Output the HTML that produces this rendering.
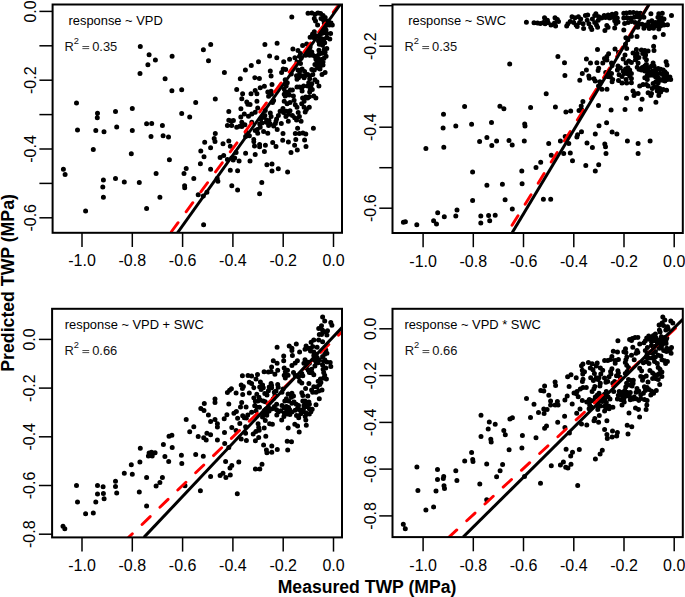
<!DOCTYPE html>
<html><head><meta charset="utf-8"><style>
html,body{margin:0;padding:0;background:#fff;}
svg{display:block;font-family:'Liberation Sans',sans-serif;}
</style></head><body>
<svg width="685" height="597" viewBox="0 0 685 597" style="font-family:'Liberation Sans',sans-serif">
<rect width="685" height="597" fill="#fff"/>
<clipPath id="c0"><rect x="52.6" y="4.5" width="289.4" height="228.3"/></clipPath>
<path d="M137.8 46.4a2.5 2.5 0 1 0 5.0 0a2.5 2.5 0 1 0 -5.0 0M146.6 54.7a2.5 2.5 0 1 0 5.0 0a2.5 2.5 0 1 0 -5.0 0M145.4 64.7a2.5 2.5 0 1 0 5.0 0a2.5 2.5 0 1 0 -5.0 0M137.5 73.4a2.5 2.5 0 1 0 5.0 0a2.5 2.5 0 1 0 -5.0 0M74.0 103.1a2.5 2.5 0 1 0 5.0 0a2.5 2.5 0 1 0 -5.0 0M95.0 113.3a2.5 2.5 0 1 0 5.0 0a2.5 2.5 0 1 0 -5.0 0M94.8 117.7a2.5 2.5 0 1 0 5.0 0a2.5 2.5 0 1 0 -5.0 0M113.0 111.5a2.5 2.5 0 1 0 5.0 0a2.5 2.5 0 1 0 -5.0 0M129.8 108.6a2.5 2.5 0 1 0 5.0 0a2.5 2.5 0 1 0 -5.0 0M144.1 123.8a2.5 2.5 0 1 0 5.0 0a2.5 2.5 0 1 0 -5.0 0M149.2 123.5a2.5 2.5 0 1 0 5.0 0a2.5 2.5 0 1 0 -5.0 0M75.0 129.9a2.5 2.5 0 1 0 5.0 0a2.5 2.5 0 1 0 -5.0 0M93.3 130.5a2.5 2.5 0 1 0 5.0 0a2.5 2.5 0 1 0 -5.0 0M101.5 131.8a2.5 2.5 0 1 0 5.0 0a2.5 2.5 0 1 0 -5.0 0M114.2 127.0a2.5 2.5 0 1 0 5.0 0a2.5 2.5 0 1 0 -5.0 0M129.8 130.5a2.5 2.5 0 1 0 5.0 0a2.5 2.5 0 1 0 -5.0 0M148.5 136.4a2.5 2.5 0 1 0 5.0 0a2.5 2.5 0 1 0 -5.0 0M90.8 149.6a2.5 2.5 0 1 0 5.0 0a2.5 2.5 0 1 0 -5.0 0M128.8 153.7a2.5 2.5 0 1 0 5.0 0a2.5 2.5 0 1 0 -5.0 0M152.9 59.9a2.5 2.5 0 1 0 5.0 0a2.5 2.5 0 1 0 -5.0 0M169.6 56.2a2.5 2.5 0 1 0 5.0 0a2.5 2.5 0 1 0 -5.0 0M200.9 49.8a2.5 2.5 0 1 0 5.0 0a2.5 2.5 0 1 0 -5.0 0M208.2 44.5a2.5 2.5 0 1 0 5.0 0a2.5 2.5 0 1 0 -5.0 0M206.0 60.7a2.5 2.5 0 1 0 5.0 0a2.5 2.5 0 1 0 -5.0 0M221.9 72.4a2.5 2.5 0 1 0 5.0 0a2.5 2.5 0 1 0 -5.0 0M242.9 70.1a2.5 2.5 0 1 0 5.0 0a2.5 2.5 0 1 0 -5.0 0M248.8 65.4a2.5 2.5 0 1 0 5.0 0a2.5 2.5 0 1 0 -5.0 0M162.6 78.8a2.5 2.5 0 1 0 5.0 0a2.5 2.5 0 1 0 -5.0 0M237.8 78.8a2.5 2.5 0 1 0 5.0 0a2.5 2.5 0 1 0 -5.0 0M289.3 17.0a2.5 2.5 0 1 0 5.0 0a2.5 2.5 0 1 0 -5.0 0M262.4 44.5a2.5 2.5 0 1 0 5.0 0a2.5 2.5 0 1 0 -5.0 0M274.6 43.2a2.5 2.5 0 1 0 5.0 0a2.5 2.5 0 1 0 -5.0 0M267.1 55.9a2.5 2.5 0 1 0 5.0 0a2.5 2.5 0 1 0 -5.0 0M274.3 57.7a2.5 2.5 0 1 0 5.0 0a2.5 2.5 0 1 0 -5.0 0M305.5 13.2a2.5 2.5 0 1 0 5.0 0a2.5 2.5 0 1 0 -5.0 0M309.3 13.0a2.5 2.5 0 1 0 5.0 0a2.5 2.5 0 1 0 -5.0 0M312.6 14.2a2.5 2.5 0 1 0 5.0 0a2.5 2.5 0 1 0 -5.0 0M315.5 13.0a2.5 2.5 0 1 0 5.0 0a2.5 2.5 0 1 0 -5.0 0M318.1 13.4a2.5 2.5 0 1 0 5.0 0a2.5 2.5 0 1 0 -5.0 0M320.6 15.5a2.5 2.5 0 1 0 5.0 0a2.5 2.5 0 1 0 -5.0 0M322.7 17.6a2.5 2.5 0 1 0 5.0 0a2.5 2.5 0 1 0 -5.0 0M311.8 18.4a2.5 2.5 0 1 0 5.0 0a2.5 2.5 0 1 0 -5.0 0M313.0 20.9a2.5 2.5 0 1 0 5.0 0a2.5 2.5 0 1 0 -5.0 0M315.1 25.1a2.5 2.5 0 1 0 5.0 0a2.5 2.5 0 1 0 -5.0 0M318.5 18.4a2.5 2.5 0 1 0 5.0 0a2.5 2.5 0 1 0 -5.0 0M321.0 20.1a2.5 2.5 0 1 0 5.0 0a2.5 2.5 0 1 0 -5.0 0M321.8 23.0a2.5 2.5 0 1 0 5.0 0a2.5 2.5 0 1 0 -5.0 0M325.6 21.3a2.5 2.5 0 1 0 5.0 0a2.5 2.5 0 1 0 -5.0 0M328.5 23.0a2.5 2.5 0 1 0 5.0 0a2.5 2.5 0 1 0 -5.0 0M329.8 25.1a2.5 2.5 0 1 0 5.0 0a2.5 2.5 0 1 0 -5.0 0M326.8 25.1a2.5 2.5 0 1 0 5.0 0a2.5 2.5 0 1 0 -5.0 0M322.7 26.8a2.5 2.5 0 1 0 5.0 0a2.5 2.5 0 1 0 -5.0 0M321.0 29.3a2.5 2.5 0 1 0 5.0 0a2.5 2.5 0 1 0 -5.0 0M323.5 30.1a2.5 2.5 0 1 0 5.0 0a2.5 2.5 0 1 0 -5.0 0M311.8 31.8a2.5 2.5 0 1 0 5.0 0a2.5 2.5 0 1 0 -5.0 0M310.1 33.9a2.5 2.5 0 1 0 5.0 0a2.5 2.5 0 1 0 -5.0 0M307.6 37.2a2.5 2.5 0 1 0 5.0 0a2.5 2.5 0 1 0 -5.0 0M310.9 37.6a2.5 2.5 0 1 0 5.0 0a2.5 2.5 0 1 0 -5.0 0M314.3 36.0a2.5 2.5 0 1 0 5.0 0a2.5 2.5 0 1 0 -5.0 0M316.8 36.8a2.5 2.5 0 1 0 5.0 0a2.5 2.5 0 1 0 -5.0 0M319.3 33.5a2.5 2.5 0 1 0 5.0 0a2.5 2.5 0 1 0 -5.0 0M321.8 32.6a2.5 2.5 0 1 0 5.0 0a2.5 2.5 0 1 0 -5.0 0M324.3 33.5a2.5 2.5 0 1 0 5.0 0a2.5 2.5 0 1 0 -5.0 0M328.1 33.5a2.5 2.5 0 1 0 5.0 0a2.5 2.5 0 1 0 -5.0 0M327.3 38.9a2.5 2.5 0 1 0 5.0 0a2.5 2.5 0 1 0 -5.0 0M324.3 37.6a2.5 2.5 0 1 0 5.0 0a2.5 2.5 0 1 0 -5.0 0M321.4 39.3a2.5 2.5 0 1 0 5.0 0a2.5 2.5 0 1 0 -5.0 0M318.5 38.5a2.5 2.5 0 1 0 5.0 0a2.5 2.5 0 1 0 -5.0 0M316.0 41.0a2.5 2.5 0 1 0 5.0 0a2.5 2.5 0 1 0 -5.0 0M319.3 41.8a2.5 2.5 0 1 0 5.0 0a2.5 2.5 0 1 0 -5.0 0M322.2 42.7a2.5 2.5 0 1 0 5.0 0a2.5 2.5 0 1 0 -5.0 0M316.8 44.3a2.5 2.5 0 1 0 5.0 0a2.5 2.5 0 1 0 -5.0 0M320.1 45.2a2.5 2.5 0 1 0 5.0 0a2.5 2.5 0 1 0 -5.0 0M324.3 48.5a2.5 2.5 0 1 0 5.0 0a2.5 2.5 0 1 0 -5.0 0M321.8 49.4a2.5 2.5 0 1 0 5.0 0a2.5 2.5 0 1 0 -5.0 0M316.4 50.2a2.5 2.5 0 1 0 5.0 0a2.5 2.5 0 1 0 -5.0 0M304.2 43.9a2.5 2.5 0 1 0 5.0 0a2.5 2.5 0 1 0 -5.0 0M300.1 45.6a2.5 2.5 0 1 0 5.0 0a2.5 2.5 0 1 0 -5.0 0M290.4 49.0a2.5 2.5 0 1 0 5.0 0a2.5 2.5 0 1 0 -5.0 0M295.5 50.6a2.5 2.5 0 1 0 5.0 0a2.5 2.5 0 1 0 -5.0 0M298.0 53.6a2.5 2.5 0 1 0 5.0 0a2.5 2.5 0 1 0 -5.0 0M307.6 46.9a2.5 2.5 0 1 0 5.0 0a2.5 2.5 0 1 0 -5.0 0M306.8 50.2a2.5 2.5 0 1 0 5.0 0a2.5 2.5 0 1 0 -5.0 0M309.3 51.9a2.5 2.5 0 1 0 5.0 0a2.5 2.5 0 1 0 -5.0 0M304.2 53.1a2.5 2.5 0 1 0 5.0 0a2.5 2.5 0 1 0 -5.0 0M281.2 61.8a2.5 2.5 0 1 0 5.0 0a2.5 2.5 0 1 0 -5.0 0M287.1 59.3a2.5 2.5 0 1 0 5.0 0a2.5 2.5 0 1 0 -5.0 0M256.0 61.8a2.5 2.5 0 1 0 5.0 0a2.5 2.5 0 1 0 -5.0 0M234.2 89.5a2.5 2.5 0 1 0 5.0 0a2.5 2.5 0 1 0 -5.0 0M252.3 77.8a2.5 2.5 0 1 0 5.0 0a2.5 2.5 0 1 0 -5.0 0M256.9 78.6a2.5 2.5 0 1 0 5.0 0a2.5 2.5 0 1 0 -5.0 0M267.8 71.1a2.5 2.5 0 1 0 5.0 0a2.5 2.5 0 1 0 -5.0 0M268.6 76.1a2.5 2.5 0 1 0 5.0 0a2.5 2.5 0 1 0 -5.0 0M257.7 87.8a2.5 2.5 0 1 0 5.0 0a2.5 2.5 0 1 0 -5.0 0M261.9 86.2a2.5 2.5 0 1 0 5.0 0a2.5 2.5 0 1 0 -5.0 0M269.5 84.5a2.5 2.5 0 1 0 5.0 0a2.5 2.5 0 1 0 -5.0 0M268.6 91.2a2.5 2.5 0 1 0 5.0 0a2.5 2.5 0 1 0 -5.0 0M265.3 92.0a2.5 2.5 0 1 0 5.0 0a2.5 2.5 0 1 0 -5.0 0M248.5 93.7a2.5 2.5 0 1 0 5.0 0a2.5 2.5 0 1 0 -5.0 0M252.7 90.4a2.5 2.5 0 1 0 5.0 0a2.5 2.5 0 1 0 -5.0 0M254.4 93.7a2.5 2.5 0 1 0 5.0 0a2.5 2.5 0 1 0 -5.0 0M240.1 93.7a2.5 2.5 0 1 0 5.0 0a2.5 2.5 0 1 0 -5.0 0M239.3 98.8a2.5 2.5 0 1 0 5.0 0a2.5 2.5 0 1 0 -5.0 0M244.3 102.1a2.5 2.5 0 1 0 5.0 0a2.5 2.5 0 1 0 -5.0 0M247.6 104.6a2.5 2.5 0 1 0 5.0 0a2.5 2.5 0 1 0 -5.0 0M254.4 101.3a2.5 2.5 0 1 0 5.0 0a2.5 2.5 0 1 0 -5.0 0M266.1 96.2a2.5 2.5 0 1 0 5.0 0a2.5 2.5 0 1 0 -5.0 0M271.1 100.4a2.5 2.5 0 1 0 5.0 0a2.5 2.5 0 1 0 -5.0 0M238.4 108.8a2.5 2.5 0 1 0 5.0 0a2.5 2.5 0 1 0 -5.0 0M241.8 113.9a2.5 2.5 0 1 0 5.0 0a2.5 2.5 0 1 0 -5.0 0M249.3 113.9a2.5 2.5 0 1 0 5.0 0a2.5 2.5 0 1 0 -5.0 0M252.7 112.2a2.5 2.5 0 1 0 5.0 0a2.5 2.5 0 1 0 -5.0 0M255.2 108.0a2.5 2.5 0 1 0 5.0 0a2.5 2.5 0 1 0 -5.0 0M262.8 110.5a2.5 2.5 0 1 0 5.0 0a2.5 2.5 0 1 0 -5.0 0M267.8 113.0a2.5 2.5 0 1 0 5.0 0a2.5 2.5 0 1 0 -5.0 0M268.6 116.4a2.5 2.5 0 1 0 5.0 0a2.5 2.5 0 1 0 -5.0 0M261.1 117.2a2.5 2.5 0 1 0 5.0 0a2.5 2.5 0 1 0 -5.0 0M239.3 122.3a2.5 2.5 0 1 0 5.0 0a2.5 2.5 0 1 0 -5.0 0M230.9 120.6a2.5 2.5 0 1 0 5.0 0a2.5 2.5 0 1 0 -5.0 0M229.2 125.6a2.5 2.5 0 1 0 5.0 0a2.5 2.5 0 1 0 -5.0 0M234.2 127.3a2.5 2.5 0 1 0 5.0 0a2.5 2.5 0 1 0 -5.0 0M239.3 126.5a2.5 2.5 0 1 0 5.0 0a2.5 2.5 0 1 0 -5.0 0M249.3 122.3a2.5 2.5 0 1 0 5.0 0a2.5 2.5 0 1 0 -5.0 0M259.4 123.1a2.5 2.5 0 1 0 5.0 0a2.5 2.5 0 1 0 -5.0 0M263.6 122.3a2.5 2.5 0 1 0 5.0 0a2.5 2.5 0 1 0 -5.0 0M266.1 125.6a2.5 2.5 0 1 0 5.0 0a2.5 2.5 0 1 0 -5.0 0M257.7 127.3a2.5 2.5 0 1 0 5.0 0a2.5 2.5 0 1 0 -5.0 0M252.7 130.6a2.5 2.5 0 1 0 5.0 0a2.5 2.5 0 1 0 -5.0 0M255.2 133.2a2.5 2.5 0 1 0 5.0 0a2.5 2.5 0 1 0 -5.0 0M261.1 131.5a2.5 2.5 0 1 0 5.0 0a2.5 2.5 0 1 0 -5.0 0M265.3 133.2a2.5 2.5 0 1 0 5.0 0a2.5 2.5 0 1 0 -5.0 0M267.8 123.9a2.5 2.5 0 1 0 5.0 0a2.5 2.5 0 1 0 -5.0 0M292.4 57.8a2.5 2.5 0 1 0 5.0 0a2.5 2.5 0 1 0 -5.0 0M297.0 56.2a2.5 2.5 0 1 0 5.0 0a2.5 2.5 0 1 0 -5.0 0M298.6 58.3a2.5 2.5 0 1 0 5.0 0a2.5 2.5 0 1 0 -5.0 0M294.5 61.9a2.5 2.5 0 1 0 5.0 0a2.5 2.5 0 1 0 -5.0 0M298.0 63.4a2.5 2.5 0 1 0 5.0 0a2.5 2.5 0 1 0 -5.0 0M303.2 55.2a2.5 2.5 0 1 0 5.0 0a2.5 2.5 0 1 0 -5.0 0M306.2 53.2a2.5 2.5 0 1 0 5.0 0a2.5 2.5 0 1 0 -5.0 0M307.2 55.2a2.5 2.5 0 1 0 5.0 0a2.5 2.5 0 1 0 -5.0 0M310.3 55.2a2.5 2.5 0 1 0 5.0 0a2.5 2.5 0 1 0 -5.0 0M312.4 56.2a2.5 2.5 0 1 0 5.0 0a2.5 2.5 0 1 0 -5.0 0M313.4 59.3a2.5 2.5 0 1 0 5.0 0a2.5 2.5 0 1 0 -5.0 0M316.4 54.2a2.5 2.5 0 1 0 5.0 0a2.5 2.5 0 1 0 -5.0 0M319.5 53.2a2.5 2.5 0 1 0 5.0 0a2.5 2.5 0 1 0 -5.0 0M322.6 52.2a2.5 2.5 0 1 0 5.0 0a2.5 2.5 0 1 0 -5.0 0M323.6 56.2a2.5 2.5 0 1 0 5.0 0a2.5 2.5 0 1 0 -5.0 0M315.4 58.3a2.5 2.5 0 1 0 5.0 0a2.5 2.5 0 1 0 -5.0 0M319.5 59.3a2.5 2.5 0 1 0 5.0 0a2.5 2.5 0 1 0 -5.0 0M321.5 58.3a2.5 2.5 0 1 0 5.0 0a2.5 2.5 0 1 0 -5.0 0M314.4 62.4a2.5 2.5 0 1 0 5.0 0a2.5 2.5 0 1 0 -5.0 0M317.5 61.9a2.5 2.5 0 1 0 5.0 0a2.5 2.5 0 1 0 -5.0 0M320.5 61.9a2.5 2.5 0 1 0 5.0 0a2.5 2.5 0 1 0 -5.0 0M312.4 64.4a2.5 2.5 0 1 0 5.0 0a2.5 2.5 0 1 0 -5.0 0M314.4 65.4a2.5 2.5 0 1 0 5.0 0a2.5 2.5 0 1 0 -5.0 0M318.5 65.4a2.5 2.5 0 1 0 5.0 0a2.5 2.5 0 1 0 -5.0 0M320.5 64.9a2.5 2.5 0 1 0 5.0 0a2.5 2.5 0 1 0 -5.0 0M315.4 68.0a2.5 2.5 0 1 0 5.0 0a2.5 2.5 0 1 0 -5.0 0M317.5 69.0a2.5 2.5 0 1 0 5.0 0a2.5 2.5 0 1 0 -5.0 0M309.3 69.5a2.5 2.5 0 1 0 5.0 0a2.5 2.5 0 1 0 -5.0 0M311.8 70.0a2.5 2.5 0 1 0 5.0 0a2.5 2.5 0 1 0 -5.0 0M319.5 74.6a2.5 2.5 0 1 0 5.0 0a2.5 2.5 0 1 0 -5.0 0M322.6 72.6a2.5 2.5 0 1 0 5.0 0a2.5 2.5 0 1 0 -5.0 0M280.7 69.0a2.5 2.5 0 1 0 5.0 0a2.5 2.5 0 1 0 -5.0 0M283.2 69.5a2.5 2.5 0 1 0 5.0 0a2.5 2.5 0 1 0 -5.0 0M279.1 72.6a2.5 2.5 0 1 0 5.0 0a2.5 2.5 0 1 0 -5.0 0M288.8 74.1a2.5 2.5 0 1 0 5.0 0a2.5 2.5 0 1 0 -5.0 0M295.5 70.0a2.5 2.5 0 1 0 5.0 0a2.5 2.5 0 1 0 -5.0 0M297.0 72.1a2.5 2.5 0 1 0 5.0 0a2.5 2.5 0 1 0 -5.0 0M299.6 69.0a2.5 2.5 0 1 0 5.0 0a2.5 2.5 0 1 0 -5.0 0M302.1 71.6a2.5 2.5 0 1 0 5.0 0a2.5 2.5 0 1 0 -5.0 0M294.0 75.7a2.5 2.5 0 1 0 5.0 0a2.5 2.5 0 1 0 -5.0 0M296.0 77.7a2.5 2.5 0 1 0 5.0 0a2.5 2.5 0 1 0 -5.0 0M294.5 79.2a2.5 2.5 0 1 0 5.0 0a2.5 2.5 0 1 0 -5.0 0M298.6 75.7a2.5 2.5 0 1 0 5.0 0a2.5 2.5 0 1 0 -5.0 0M301.6 77.7a2.5 2.5 0 1 0 5.0 0a2.5 2.5 0 1 0 -5.0 0M302.6 75.7a2.5 2.5 0 1 0 5.0 0a2.5 2.5 0 1 0 -5.0 0M305.2 74.6a2.5 2.5 0 1 0 5.0 0a2.5 2.5 0 1 0 -5.0 0M307.2 75.7a2.5 2.5 0 1 0 5.0 0a2.5 2.5 0 1 0 -5.0 0M307.2 78.7a2.5 2.5 0 1 0 5.0 0a2.5 2.5 0 1 0 -5.0 0M306.2 82.8a2.5 2.5 0 1 0 5.0 0a2.5 2.5 0 1 0 -5.0 0M310.3 74.6a2.5 2.5 0 1 0 5.0 0a2.5 2.5 0 1 0 -5.0 0M312.4 79.7a2.5 2.5 0 1 0 5.0 0a2.5 2.5 0 1 0 -5.0 0M314.4 81.8a2.5 2.5 0 1 0 5.0 0a2.5 2.5 0 1 0 -5.0 0M316.4 85.9a2.5 2.5 0 1 0 5.0 0a2.5 2.5 0 1 0 -5.0 0M309.3 83.8a2.5 2.5 0 1 0 5.0 0a2.5 2.5 0 1 0 -5.0 0M308.3 85.9a2.5 2.5 0 1 0 5.0 0a2.5 2.5 0 1 0 -5.0 0M282.7 79.7a2.5 2.5 0 1 0 5.0 0a2.5 2.5 0 1 0 -5.0 0M284.8 82.8a2.5 2.5 0 1 0 5.0 0a2.5 2.5 0 1 0 -5.0 0M283.7 85.9a2.5 2.5 0 1 0 5.0 0a2.5 2.5 0 1 0 -5.0 0M281.7 88.9a2.5 2.5 0 1 0 5.0 0a2.5 2.5 0 1 0 -5.0 0M282.7 92.0a2.5 2.5 0 1 0 5.0 0a2.5 2.5 0 1 0 -5.0 0M282.7 96.1a2.5 2.5 0 1 0 5.0 0a2.5 2.5 0 1 0 -5.0 0M287.8 90.0a2.5 2.5 0 1 0 5.0 0a2.5 2.5 0 1 0 -5.0 0M289.9 90.0a2.5 2.5 0 1 0 5.0 0a2.5 2.5 0 1 0 -5.0 0M285.8 92.0a2.5 2.5 0 1 0 5.0 0a2.5 2.5 0 1 0 -5.0 0M286.8 95.1a2.5 2.5 0 1 0 5.0 0a2.5 2.5 0 1 0 -5.0 0M290.9 96.1a2.5 2.5 0 1 0 5.0 0a2.5 2.5 0 1 0 -5.0 0M294.5 86.9a2.5 2.5 0 1 0 5.0 0a2.5 2.5 0 1 0 -5.0 0M297.0 86.9a2.5 2.5 0 1 0 5.0 0a2.5 2.5 0 1 0 -5.0 0M299.1 87.9a2.5 2.5 0 1 0 5.0 0a2.5 2.5 0 1 0 -5.0 0M301.1 85.9a2.5 2.5 0 1 0 5.0 0a2.5 2.5 0 1 0 -5.0 0M299.6 91.0a2.5 2.5 0 1 0 5.0 0a2.5 2.5 0 1 0 -5.0 0M305.2 85.9a2.5 2.5 0 1 0 5.0 0a2.5 2.5 0 1 0 -5.0 0M307.8 90.0a2.5 2.5 0 1 0 5.0 0a2.5 2.5 0 1 0 -5.0 0M307.2 92.0a2.5 2.5 0 1 0 5.0 0a2.5 2.5 0 1 0 -5.0 0M309.8 89.5a2.5 2.5 0 1 0 5.0 0a2.5 2.5 0 1 0 -5.0 0M311.3 96.1a2.5 2.5 0 1 0 5.0 0a2.5 2.5 0 1 0 -5.0 0M313.4 98.1a2.5 2.5 0 1 0 5.0 0a2.5 2.5 0 1 0 -5.0 0M303.2 97.1a2.5 2.5 0 1 0 5.0 0a2.5 2.5 0 1 0 -5.0 0M305.2 98.1a2.5 2.5 0 1 0 5.0 0a2.5 2.5 0 1 0 -5.0 0M300.1 98.1a2.5 2.5 0 1 0 5.0 0a2.5 2.5 0 1 0 -5.0 0M268.9 94.3a2.5 2.5 0 1 0 5.0 0a2.5 2.5 0 1 0 -5.0 0M270.0 102.5a2.5 2.5 0 1 0 5.0 0a2.5 2.5 0 1 0 -5.0 0M262.4 115.4a2.5 2.5 0 1 0 5.0 0a2.5 2.5 0 1 0 -5.0 0M258.3 118.9a2.5 2.5 0 1 0 5.0 0a2.5 2.5 0 1 0 -5.0 0M257.2 124.1a2.5 2.5 0 1 0 5.0 0a2.5 2.5 0 1 0 -5.0 0M264.2 120.0a2.5 2.5 0 1 0 5.0 0a2.5 2.5 0 1 0 -5.0 0M266.5 120.6a2.5 2.5 0 1 0 5.0 0a2.5 2.5 0 1 0 -5.0 0M254.8 129.4a2.5 2.5 0 1 0 5.0 0a2.5 2.5 0 1 0 -5.0 0M271.2 125.9a2.5 2.5 0 1 0 5.0 0a2.5 2.5 0 1 0 -5.0 0M272.9 123.5a2.5 2.5 0 1 0 5.0 0a2.5 2.5 0 1 0 -5.0 0M274.7 129.4a2.5 2.5 0 1 0 5.0 0a2.5 2.5 0 1 0 -5.0 0M274.1 118.9a2.5 2.5 0 1 0 5.0 0a2.5 2.5 0 1 0 -5.0 0M273.5 121.2a2.5 2.5 0 1 0 5.0 0a2.5 2.5 0 1 0 -5.0 0M275.9 115.4a2.5 2.5 0 1 0 5.0 0a2.5 2.5 0 1 0 -5.0 0M277.6 111.3a2.5 2.5 0 1 0 5.0 0a2.5 2.5 0 1 0 -5.0 0M280.5 108.4a2.5 2.5 0 1 0 5.0 0a2.5 2.5 0 1 0 -5.0 0M281.1 112.4a2.5 2.5 0 1 0 5.0 0a2.5 2.5 0 1 0 -5.0 0M278.8 123.5a2.5 2.5 0 1 0 5.0 0a2.5 2.5 0 1 0 -5.0 0M280.5 133.5a2.5 2.5 0 1 0 5.0 0a2.5 2.5 0 1 0 -5.0 0M281.7 94.3a2.5 2.5 0 1 0 5.0 0a2.5 2.5 0 1 0 -5.0 0M281.7 101.3a2.5 2.5 0 1 0 5.0 0a2.5 2.5 0 1 0 -5.0 0M284.6 103.7a2.5 2.5 0 1 0 5.0 0a2.5 2.5 0 1 0 -5.0 0M287.5 102.5a2.5 2.5 0 1 0 5.0 0a2.5 2.5 0 1 0 -5.0 0M291.6 100.2a2.5 2.5 0 1 0 5.0 0a2.5 2.5 0 1 0 -5.0 0M292.8 104.8a2.5 2.5 0 1 0 5.0 0a2.5 2.5 0 1 0 -5.0 0M294.5 107.2a2.5 2.5 0 1 0 5.0 0a2.5 2.5 0 1 0 -5.0 0M284.0 111.3a2.5 2.5 0 1 0 5.0 0a2.5 2.5 0 1 0 -5.0 0M286.4 114.2a2.5 2.5 0 1 0 5.0 0a2.5 2.5 0 1 0 -5.0 0M283.4 116.5a2.5 2.5 0 1 0 5.0 0a2.5 2.5 0 1 0 -5.0 0M287.5 110.7a2.5 2.5 0 1 0 5.0 0a2.5 2.5 0 1 0 -5.0 0M289.9 115.4a2.5 2.5 0 1 0 5.0 0a2.5 2.5 0 1 0 -5.0 0M292.2 117.7a2.5 2.5 0 1 0 5.0 0a2.5 2.5 0 1 0 -5.0 0M294.0 120.0a2.5 2.5 0 1 0 5.0 0a2.5 2.5 0 1 0 -5.0 0M285.8 121.2a2.5 2.5 0 1 0 5.0 0a2.5 2.5 0 1 0 -5.0 0M295.7 112.4a2.5 2.5 0 1 0 5.0 0a2.5 2.5 0 1 0 -5.0 0M296.9 116.5a2.5 2.5 0 1 0 5.0 0a2.5 2.5 0 1 0 -5.0 0M298.6 121.2a2.5 2.5 0 1 0 5.0 0a2.5 2.5 0 1 0 -5.0 0M299.2 103.7a2.5 2.5 0 1 0 5.0 0a2.5 2.5 0 1 0 -5.0 0M301.6 101.3a2.5 2.5 0 1 0 5.0 0a2.5 2.5 0 1 0 -5.0 0M306.8 96.7a2.5 2.5 0 1 0 5.0 0a2.5 2.5 0 1 0 -5.0 0M301.6 107.2a2.5 2.5 0 1 0 5.0 0a2.5 2.5 0 1 0 -5.0 0M303.9 109.5a2.5 2.5 0 1 0 5.0 0a2.5 2.5 0 1 0 -5.0 0M306.8 107.2a2.5 2.5 0 1 0 5.0 0a2.5 2.5 0 1 0 -5.0 0M302.7 111.9a2.5 2.5 0 1 0 5.0 0a2.5 2.5 0 1 0 -5.0 0M295.1 128.2a2.5 2.5 0 1 0 5.0 0a2.5 2.5 0 1 0 -5.0 0M292.8 133.5a2.5 2.5 0 1 0 5.0 0a2.5 2.5 0 1 0 -5.0 0M296.9 133.5a2.5 2.5 0 1 0 5.0 0a2.5 2.5 0 1 0 -5.0 0M300.4 132.9a2.5 2.5 0 1 0 5.0 0a2.5 2.5 0 1 0 -5.0 0M303.3 134.0a2.5 2.5 0 1 0 5.0 0a2.5 2.5 0 1 0 -5.0 0M310.9 128.2a2.5 2.5 0 1 0 5.0 0a2.5 2.5 0 1 0 -5.0 0M60.9 169.3a2.5 2.5 0 1 0 5.0 0a2.5 2.5 0 1 0 -5.0 0M62.6 174.4a2.5 2.5 0 1 0 5.0 0a2.5 2.5 0 1 0 -5.0 0M100.9 180.1a2.5 2.5 0 1 0 5.0 0a2.5 2.5 0 1 0 -5.0 0M100.3 187.1a2.5 2.5 0 1 0 5.0 0a2.5 2.5 0 1 0 -5.0 0M100.9 197.3a2.5 2.5 0 1 0 5.0 0a2.5 2.5 0 1 0 -5.0 0M113.0 178.4a2.5 2.5 0 1 0 5.0 0a2.5 2.5 0 1 0 -5.0 0M121.8 182.0a2.5 2.5 0 1 0 5.0 0a2.5 2.5 0 1 0 -5.0 0M136.8 182.4a2.5 2.5 0 1 0 5.0 0a2.5 2.5 0 1 0 -5.0 0M83.1 210.9a2.5 2.5 0 1 0 5.0 0a2.5 2.5 0 1 0 -5.0 0M144.1 208.6a2.5 2.5 0 1 0 5.0 0a2.5 2.5 0 1 0 -5.0 0M169.4 90.8a2.5 2.5 0 1 0 5.0 0a2.5 2.5 0 1 0 -5.0 0M179.2 89.7a2.5 2.5 0 1 0 5.0 0a2.5 2.5 0 1 0 -5.0 0M193.2 102.5a2.5 2.5 0 1 0 5.0 0a2.5 2.5 0 1 0 -5.0 0M212.8 99.0a2.5 2.5 0 1 0 5.0 0a2.5 2.5 0 1 0 -5.0 0M245.3 104.3a2.5 2.5 0 1 0 5.0 0a2.5 2.5 0 1 0 -5.0 0M179.2 113.5a2.5 2.5 0 1 0 5.0 0a2.5 2.5 0 1 0 -5.0 0M187.2 117.1a2.5 2.5 0 1 0 5.0 0a2.5 2.5 0 1 0 -5.0 0M159.9 125.4a2.5 2.5 0 1 0 5.0 0a2.5 2.5 0 1 0 -5.0 0M160.6 135.7a2.5 2.5 0 1 0 5.0 0a2.5 2.5 0 1 0 -5.0 0M166.0 137.1a2.5 2.5 0 1 0 5.0 0a2.5 2.5 0 1 0 -5.0 0M226.3 111.6a2.5 2.5 0 1 0 5.0 0a2.5 2.5 0 1 0 -5.0 0M238.3 117.1a2.5 2.5 0 1 0 5.0 0a2.5 2.5 0 1 0 -5.0 0M246.0 116.2a2.5 2.5 0 1 0 5.0 0a2.5 2.5 0 1 0 -5.0 0M226.3 120.3a2.5 2.5 0 1 0 5.0 0a2.5 2.5 0 1 0 -5.0 0M228.5 121.1a2.5 2.5 0 1 0 5.0 0a2.5 2.5 0 1 0 -5.0 0M224.9 125.4a2.5 2.5 0 1 0 5.0 0a2.5 2.5 0 1 0 -5.0 0M237.3 126.2a2.5 2.5 0 1 0 5.0 0a2.5 2.5 0 1 0 -5.0 0M242.4 124.7a2.5 2.5 0 1 0 5.0 0a2.5 2.5 0 1 0 -5.0 0M212.8 133.5a2.5 2.5 0 1 0 5.0 0a2.5 2.5 0 1 0 -5.0 0M202.2 142.2a2.5 2.5 0 1 0 5.0 0a2.5 2.5 0 1 0 -5.0 0M211.7 138.6a2.5 2.5 0 1 0 5.0 0a2.5 2.5 0 1 0 -5.0 0M212.5 141.5a2.5 2.5 0 1 0 5.0 0a2.5 2.5 0 1 0 -5.0 0M208.1 147.8a2.5 2.5 0 1 0 5.0 0a2.5 2.5 0 1 0 -5.0 0M220.5 143.7a2.5 2.5 0 1 0 5.0 0a2.5 2.5 0 1 0 -5.0 0M226.3 141.1a2.5 2.5 0 1 0 5.0 0a2.5 2.5 0 1 0 -5.0 0M227.8 146.3a2.5 2.5 0 1 0 5.0 0a2.5 2.5 0 1 0 -5.0 0M198.3 151.0a2.5 2.5 0 1 0 5.0 0a2.5 2.5 0 1 0 -5.0 0M201.5 156.8a2.5 2.5 0 1 0 5.0 0a2.5 2.5 0 1 0 -5.0 0M221.2 155.4a2.5 2.5 0 1 0 5.0 0a2.5 2.5 0 1 0 -5.0 0M217.6 157.6a2.5 2.5 0 1 0 5.0 0a2.5 2.5 0 1 0 -5.0 0M233.6 152.5a2.5 2.5 0 1 0 5.0 0a2.5 2.5 0 1 0 -5.0 0M243.1 153.2a2.5 2.5 0 1 0 5.0 0a2.5 2.5 0 1 0 -5.0 0M243.1 136.4a2.5 2.5 0 1 0 5.0 0a2.5 2.5 0 1 0 -5.0 0M166.9 159.7a2.5 2.5 0 1 0 5.0 0a2.5 2.5 0 1 0 -5.0 0M197.9 163.8a2.5 2.5 0 1 0 5.0 0a2.5 2.5 0 1 0 -5.0 0M183.7 168.4a2.5 2.5 0 1 0 5.0 0a2.5 2.5 0 1 0 -5.0 0M181.5 173.5a2.5 2.5 0 1 0 5.0 0a2.5 2.5 0 1 0 -5.0 0M153.6 173.4a2.5 2.5 0 1 0 5.0 0a2.5 2.5 0 1 0 -5.0 0M191.3 178.4a2.5 2.5 0 1 0 5.0 0a2.5 2.5 0 1 0 -5.0 0M208.1 169.3a2.5 2.5 0 1 0 5.0 0a2.5 2.5 0 1 0 -5.0 0M182.1 185.7a2.5 2.5 0 1 0 5.0 0a2.5 2.5 0 1 0 -5.0 0M182.2 187.8a2.5 2.5 0 1 0 5.0 0a2.5 2.5 0 1 0 -5.0 0M157.4 197.3a2.5 2.5 0 1 0 5.0 0a2.5 2.5 0 1 0 -5.0 0M195.7 194.7a2.5 2.5 0 1 0 5.0 0a2.5 2.5 0 1 0 -5.0 0M200.8 195.9a2.5 2.5 0 1 0 5.0 0a2.5 2.5 0 1 0 -5.0 0M204.4 192.2a2.5 2.5 0 1 0 5.0 0a2.5 2.5 0 1 0 -5.0 0M214.7 178.4a2.5 2.5 0 1 0 5.0 0a2.5 2.5 0 1 0 -5.0 0M215.4 181.3a2.5 2.5 0 1 0 5.0 0a2.5 2.5 0 1 0 -5.0 0M224.9 159.4a2.5 2.5 0 1 0 5.0 0a2.5 2.5 0 1 0 -5.0 0M229.3 157.9a2.5 2.5 0 1 0 5.0 0a2.5 2.5 0 1 0 -5.0 0M232.2 157.9a2.5 2.5 0 1 0 5.0 0a2.5 2.5 0 1 0 -5.0 0M230.7 160.1a2.5 2.5 0 1 0 5.0 0a2.5 2.5 0 1 0 -5.0 0M236.6 161.1a2.5 2.5 0 1 0 5.0 0a2.5 2.5 0 1 0 -5.0 0M227.8 170.3a2.5 2.5 0 1 0 5.0 0a2.5 2.5 0 1 0 -5.0 0M235.1 170.8a2.5 2.5 0 1 0 5.0 0a2.5 2.5 0 1 0 -5.0 0M229.3 185.7a2.5 2.5 0 1 0 5.0 0a2.5 2.5 0 1 0 -5.0 0M235.1 190.0a2.5 2.5 0 1 0 5.0 0a2.5 2.5 0 1 0 -5.0 0M201.1 224.8a2.5 2.5 0 1 0 5.0 0a2.5 2.5 0 1 0 -5.0 0M247.5 161.1a2.5 2.5 0 1 0 5.0 0a2.5 2.5 0 1 0 -5.0 0M244.0 132.2a2.5 2.5 0 1 0 5.0 0a2.5 2.5 0 1 0 -5.0 0M246.9 135.8a2.5 2.5 0 1 0 5.0 0a2.5 2.5 0 1 0 -5.0 0M251.3 139.5a2.5 2.5 0 1 0 5.0 0a2.5 2.5 0 1 0 -5.0 0M251.3 141.7a2.5 2.5 0 1 0 5.0 0a2.5 2.5 0 1 0 -5.0 0M252.0 146.1a2.5 2.5 0 1 0 5.0 0a2.5 2.5 0 1 0 -5.0 0M257.1 144.6a2.5 2.5 0 1 0 5.0 0a2.5 2.5 0 1 0 -5.0 0M257.1 146.8a2.5 2.5 0 1 0 5.0 0a2.5 2.5 0 1 0 -5.0 0M262.9 145.3a2.5 2.5 0 1 0 5.0 0a2.5 2.5 0 1 0 -5.0 0M270.2 142.4a2.5 2.5 0 1 0 5.0 0a2.5 2.5 0 1 0 -5.0 0M273.5 146.4a2.5 2.5 0 1 0 5.0 0a2.5 2.5 0 1 0 -5.0 0M280.2 140.2a2.5 2.5 0 1 0 5.0 0a2.5 2.5 0 1 0 -5.0 0M285.9 142.0a2.5 2.5 0 1 0 5.0 0a2.5 2.5 0 1 0 -5.0 0M293.3 139.5a2.5 2.5 0 1 0 5.0 0a2.5 2.5 0 1 0 -5.0 0M302.1 139.9a2.5 2.5 0 1 0 5.0 0a2.5 2.5 0 1 0 -5.0 0M292.1 145.3a2.5 2.5 0 1 0 5.0 0a2.5 2.5 0 1 0 -5.0 0M294.8 150.1a2.5 2.5 0 1 0 5.0 0a2.5 2.5 0 1 0 -5.0 0M303.5 146.4a2.5 2.5 0 1 0 5.0 0a2.5 2.5 0 1 0 -5.0 0M288.5 152.6a2.5 2.5 0 1 0 5.0 0a2.5 2.5 0 1 0 -5.0 0M252.7 154.5a2.5 2.5 0 1 0 5.0 0a2.5 2.5 0 1 0 -5.0 0M261.9 151.6a2.5 2.5 0 1 0 5.0 0a2.5 2.5 0 1 0 -5.0 0M264.4 164.7a2.5 2.5 0 1 0 5.0 0a2.5 2.5 0 1 0 -5.0 0M269.5 163.9a2.5 2.5 0 1 0 5.0 0a2.5 2.5 0 1 0 -5.0 0M269.5 170.9a2.5 2.5 0 1 0 5.0 0a2.5 2.5 0 1 0 -5.0 0M275.8 168.7a2.5 2.5 0 1 0 5.0 0a2.5 2.5 0 1 0 -5.0 0M285.1 172.0a2.5 2.5 0 1 0 5.0 0a2.5 2.5 0 1 0 -5.0 0M259.3 182.6a2.5 2.5 0 1 0 5.0 0a2.5 2.5 0 1 0 -5.0 0M257.1 193.8a2.5 2.5 0 1 0 5.0 0a2.5 2.5 0 1 0 -5.0 0" fill="#000"/>
<g clip-path="url(#c0)"><line x1="170.6" y1="232.8" x2="339.0" y2="4.5" stroke="#ff0000" stroke-width="2.9" stroke-dasharray="11.3 13.5" stroke-dashoffset="23.5" stroke-linecap="round"/>
<line x1="177.5" y1="232.8" x2="340.3" y2="4.5" stroke="#000" stroke-width="3.0"/></g>
<rect x="52.6" y="4.5" width="289.4" height="228.3" fill="none" stroke="#000" stroke-width="2.0"/>
<line x1="82.0" y1="232.8" x2="82.0" y2="247.0" stroke="#000" stroke-width="1.5"/>
<text x="82.0" y="266.3" text-anchor="middle" font-size="16">-1.0</text>
<line x1="132.3" y1="232.8" x2="132.3" y2="247.0" stroke="#000" stroke-width="1.5"/>
<text x="132.3" y="266.3" text-anchor="middle" font-size="16">-0.8</text>
<line x1="182.6" y1="232.8" x2="182.6" y2="247.0" stroke="#000" stroke-width="1.5"/>
<text x="182.6" y="266.3" text-anchor="middle" font-size="16">-0.6</text>
<line x1="232.9" y1="232.8" x2="232.9" y2="247.0" stroke="#000" stroke-width="1.5"/>
<text x="232.9" y="266.3" text-anchor="middle" font-size="16">-0.4</text>
<line x1="283.2" y1="232.8" x2="283.2" y2="247.0" stroke="#000" stroke-width="1.5"/>
<text x="283.2" y="266.3" text-anchor="middle" font-size="16">-0.2</text>
<line x1="333.5" y1="232.8" x2="333.5" y2="247.0" stroke="#000" stroke-width="1.5"/>
<text x="333.5" y="266.3" text-anchor="middle" font-size="16">0.0</text>
<line x1="39.400000000000006" y1="11.4" x2="52.6" y2="11.4" stroke="#000" stroke-width="1.5"/>
<line x1="39.400000000000006" y1="45.8" x2="52.6" y2="45.8" stroke="#000" stroke-width="1.5"/>
<line x1="39.400000000000006" y1="80.2" x2="52.6" y2="80.2" stroke="#000" stroke-width="1.5"/>
<line x1="39.400000000000006" y1="114.6" x2="52.6" y2="114.6" stroke="#000" stroke-width="1.5"/>
<line x1="39.400000000000006" y1="149.0" x2="52.6" y2="149.0" stroke="#000" stroke-width="1.5"/>
<line x1="39.400000000000006" y1="183.4" x2="52.6" y2="183.4" stroke="#000" stroke-width="1.5"/>
<line x1="39.400000000000006" y1="217.8" x2="52.6" y2="217.8" stroke="#000" stroke-width="1.5"/>
<text transform="translate(35.7,11.4) rotate(-90)" x="0" y="0" text-anchor="middle" font-size="16">0.0</text>
<text transform="translate(35.7,80.2) rotate(-90)" x="0" y="0" text-anchor="middle" font-size="16">-0.2</text>
<text transform="translate(35.7,149.0) rotate(-90)" x="0" y="0" text-anchor="middle" font-size="16">-0.4</text>
<text transform="translate(35.7,217.8) rotate(-90)" x="0" y="0" text-anchor="middle" font-size="16">-0.6</text>
<text x="68.5" y="25.2" font-size="12.9">response ~ VPD</text>
<text x="64.6" y="50.6" font-size="12.9" fill="#111">R</text>
<text x="73.8" y="44.2" font-size="9.3" fill="#111">2</text>
<path d="M82.4 46.5H89.2M82.4 48.6H89.2" stroke="#444" stroke-width="0.95" fill="none"/>
<text x="92.2" y="50.6" font-size="12.9" fill="#111">0.35</text>
<clipPath id="c1"><rect x="392.5" y="4.5" width="290.29999999999995" height="228.5"/></clipPath>
<path d="M523.9 22.3a2.5 2.5 0 1 0 5.0 0a2.5 2.5 0 1 0 -5.0 0M531.5 22.8a2.5 2.5 0 1 0 5.0 0a2.5 2.5 0 1 0 -5.0 0M535.0 23.1a2.5 2.5 0 1 0 5.0 0a2.5 2.5 0 1 0 -5.0 0M537.9 23.5a2.5 2.5 0 1 0 5.0 0a2.5 2.5 0 1 0 -5.0 0M540.9 22.5a2.5 2.5 0 1 0 5.0 0a2.5 2.5 0 1 0 -5.0 0M542.0 17.8a2.5 2.5 0 1 0 5.0 0a2.5 2.5 0 1 0 -5.0 0M542.6 23.7a2.5 2.5 0 1 0 5.0 0a2.5 2.5 0 1 0 -5.0 0M544.9 20.2a2.5 2.5 0 1 0 5.0 0a2.5 2.5 0 1 0 -5.0 0M545.5 22.5a2.5 2.5 0 1 0 5.0 0a2.5 2.5 0 1 0 -5.0 0M548.5 24.9a2.5 2.5 0 1 0 5.0 0a2.5 2.5 0 1 0 -5.0 0M552.5 17.8a2.5 2.5 0 1 0 5.0 0a2.5 2.5 0 1 0 -5.0 0M554.9 19.6a2.5 2.5 0 1 0 5.0 0a2.5 2.5 0 1 0 -5.0 0M556.0 21.4a2.5 2.5 0 1 0 5.0 0a2.5 2.5 0 1 0 -5.0 0M552.0 23.1a2.5 2.5 0 1 0 5.0 0a2.5 2.5 0 1 0 -5.0 0M553.1 26.0a2.5 2.5 0 1 0 5.0 0a2.5 2.5 0 1 0 -5.0 0M565.4 23.7a2.5 2.5 0 1 0 5.0 0a2.5 2.5 0 1 0 -5.0 0M564.2 26.0a2.5 2.5 0 1 0 5.0 0a2.5 2.5 0 1 0 -5.0 0M567.7 21.4a2.5 2.5 0 1 0 5.0 0a2.5 2.5 0 1 0 -5.0 0M569.5 16.7a2.5 2.5 0 1 0 5.0 0a2.5 2.5 0 1 0 -5.0 0M572.4 17.8a2.5 2.5 0 1 0 5.0 0a2.5 2.5 0 1 0 -5.0 0M571.2 22.5a2.5 2.5 0 1 0 5.0 0a2.5 2.5 0 1 0 -5.0 0M573.6 24.9a2.5 2.5 0 1 0 5.0 0a2.5 2.5 0 1 0 -5.0 0M574.7 26.6a2.5 2.5 0 1 0 5.0 0a2.5 2.5 0 1 0 -5.0 0M575.9 16.7a2.5 2.5 0 1 0 5.0 0a2.5 2.5 0 1 0 -5.0 0M578.2 19.0a2.5 2.5 0 1 0 5.0 0a2.5 2.5 0 1 0 -5.0 0M577.1 22.5a2.5 2.5 0 1 0 5.0 0a2.5 2.5 0 1 0 -5.0 0M580.6 23.7a2.5 2.5 0 1 0 5.0 0a2.5 2.5 0 1 0 -5.0 0M581.1 28.4a2.5 2.5 0 1 0 5.0 0a2.5 2.5 0 1 0 -5.0 0M582.9 15.5a2.5 2.5 0 1 0 5.0 0a2.5 2.5 0 1 0 -5.0 0M585.2 14.9a2.5 2.5 0 1 0 5.0 0a2.5 2.5 0 1 0 -5.0 0M584.7 20.2a2.5 2.5 0 1 0 5.0 0a2.5 2.5 0 1 0 -5.0 0M586.4 23.7a2.5 2.5 0 1 0 5.0 0a2.5 2.5 0 1 0 -5.0 0M588.2 27.2a2.5 2.5 0 1 0 5.0 0a2.5 2.5 0 1 0 -5.0 0M589.3 29.5a2.5 2.5 0 1 0 5.0 0a2.5 2.5 0 1 0 -5.0 0M589.9 19.0a2.5 2.5 0 1 0 5.0 0a2.5 2.5 0 1 0 -5.0 0M592.2 15.5a2.5 2.5 0 1 0 5.0 0a2.5 2.5 0 1 0 -5.0 0M593.4 13.8a2.5 2.5 0 1 0 5.0 0a2.5 2.5 0 1 0 -5.0 0M592.2 22.5a2.5 2.5 0 1 0 5.0 0a2.5 2.5 0 1 0 -5.0 0M594.0 24.9a2.5 2.5 0 1 0 5.0 0a2.5 2.5 0 1 0 -5.0 0M595.7 20.2a2.5 2.5 0 1 0 5.0 0a2.5 2.5 0 1 0 -5.0 0M596.3 16.7a2.5 2.5 0 1 0 5.0 0a2.5 2.5 0 1 0 -5.0 0M601.7 15.5a2.5 2.5 0 1 0 5.0 0a2.5 2.5 0 1 0 -5.0 0M605.6 14.9a2.5 2.5 0 1 0 5.0 0a2.5 2.5 0 1 0 -5.0 0M609.6 14.2a2.5 2.5 0 1 0 5.0 0a2.5 2.5 0 1 0 -5.0 0M613.5 13.5a2.5 2.5 0 1 0 5.0 0a2.5 2.5 0 1 0 -5.0 0M599.1 18.1a2.5 2.5 0 1 0 5.0 0a2.5 2.5 0 1 0 -5.0 0M603.0 17.5a2.5 2.5 0 1 0 5.0 0a2.5 2.5 0 1 0 -5.0 0M607.0 18.1a2.5 2.5 0 1 0 5.0 0a2.5 2.5 0 1 0 -5.0 0M610.9 17.5a2.5 2.5 0 1 0 5.0 0a2.5 2.5 0 1 0 -5.0 0M614.8 18.1a2.5 2.5 0 1 0 5.0 0a2.5 2.5 0 1 0 -5.0 0M612.2 20.8a2.5 2.5 0 1 0 5.0 0a2.5 2.5 0 1 0 -5.0 0M615.5 22.1a2.5 2.5 0 1 0 5.0 0a2.5 2.5 0 1 0 -5.0 0M613.5 23.4a2.5 2.5 0 1 0 5.0 0a2.5 2.5 0 1 0 -5.0 0M595.1 27.3a2.5 2.5 0 1 0 5.0 0a2.5 2.5 0 1 0 -5.0 0M604.3 25.4a2.5 2.5 0 1 0 5.0 0a2.5 2.5 0 1 0 -5.0 0M605.6 27.3a2.5 2.5 0 1 0 5.0 0a2.5 2.5 0 1 0 -5.0 0M612.2 28.0a2.5 2.5 0 1 0 5.0 0a2.5 2.5 0 1 0 -5.0 0M602.4 30.6a2.5 2.5 0 1 0 5.0 0a2.5 2.5 0 1 0 -5.0 0M634.5 36.5a2.5 2.5 0 1 0 5.0 0a2.5 2.5 0 1 0 -5.0 0M623.4 37.8a2.5 2.5 0 1 0 5.0 0a2.5 2.5 0 1 0 -5.0 0M652.3 37.2a2.5 2.5 0 1 0 5.0 0a2.5 2.5 0 1 0 -5.0 0M660.8 34.6a2.5 2.5 0 1 0 5.0 0a2.5 2.5 0 1 0 -5.0 0M621.3 13.3a2.5 2.5 0 1 0 5.0 0a2.5 2.5 0 1 0 -5.0 0M623.9 12.9a2.5 2.5 0 1 0 5.0 0a2.5 2.5 0 1 0 -5.0 0M627.4 12.4a2.5 2.5 0 1 0 5.0 0a2.5 2.5 0 1 0 -5.0 0M630.9 12.4a2.5 2.5 0 1 0 5.0 0a2.5 2.5 0 1 0 -5.0 0M634.4 12.9a2.5 2.5 0 1 0 5.0 0a2.5 2.5 0 1 0 -5.0 0M637.9 13.3a2.5 2.5 0 1 0 5.0 0a2.5 2.5 0 1 0 -5.0 0M648.4 13.8a2.5 2.5 0 1 0 5.0 0a2.5 2.5 0 1 0 -5.0 0M656.3 13.8a2.5 2.5 0 1 0 5.0 0a2.5 2.5 0 1 0 -5.0 0M659.8 13.3a2.5 2.5 0 1 0 5.0 0a2.5 2.5 0 1 0 -5.0 0M669.0 15.5a2.5 2.5 0 1 0 5.0 0a2.5 2.5 0 1 0 -5.0 0M621.3 18.1a2.5 2.5 0 1 0 5.0 0a2.5 2.5 0 1 0 -5.0 0M624.8 17.7a2.5 2.5 0 1 0 5.0 0a2.5 2.5 0 1 0 -5.0 0M628.3 18.1a2.5 2.5 0 1 0 5.0 0a2.5 2.5 0 1 0 -5.0 0M631.8 17.3a2.5 2.5 0 1 0 5.0 0a2.5 2.5 0 1 0 -5.0 0M635.3 16.8a2.5 2.5 0 1 0 5.0 0a2.5 2.5 0 1 0 -5.0 0M638.8 16.4a2.5 2.5 0 1 0 5.0 0a2.5 2.5 0 1 0 -5.0 0M641.4 17.3a2.5 2.5 0 1 0 5.0 0a2.5 2.5 0 1 0 -5.0 0M655.4 17.3a2.5 2.5 0 1 0 5.0 0a2.5 2.5 0 1 0 -5.0 0M658.9 18.1a2.5 2.5 0 1 0 5.0 0a2.5 2.5 0 1 0 -5.0 0M661.5 19.0a2.5 2.5 0 1 0 5.0 0a2.5 2.5 0 1 0 -5.0 0M622.1 23.4a2.5 2.5 0 1 0 5.0 0a2.5 2.5 0 1 0 -5.0 0M625.6 22.5a2.5 2.5 0 1 0 5.0 0a2.5 2.5 0 1 0 -5.0 0M629.1 21.6a2.5 2.5 0 1 0 5.0 0a2.5 2.5 0 1 0 -5.0 0M632.6 22.5a2.5 2.5 0 1 0 5.0 0a2.5 2.5 0 1 0 -5.0 0M636.1 23.8a2.5 2.5 0 1 0 5.0 0a2.5 2.5 0 1 0 -5.0 0M639.6 24.3a2.5 2.5 0 1 0 5.0 0a2.5 2.5 0 1 0 -5.0 0M643.1 25.1a2.5 2.5 0 1 0 5.0 0a2.5 2.5 0 1 0 -5.0 0M645.8 26.0a2.5 2.5 0 1 0 5.0 0a2.5 2.5 0 1 0 -5.0 0M648.4 26.5a2.5 2.5 0 1 0 5.0 0a2.5 2.5 0 1 0 -5.0 0M651.0 26.0a2.5 2.5 0 1 0 5.0 0a2.5 2.5 0 1 0 -5.0 0M654.5 25.6a2.5 2.5 0 1 0 5.0 0a2.5 2.5 0 1 0 -5.0 0M658.0 26.0a2.5 2.5 0 1 0 5.0 0a2.5 2.5 0 1 0 -5.0 0M661.5 25.1a2.5 2.5 0 1 0 5.0 0a2.5 2.5 0 1 0 -5.0 0M665.0 24.7a2.5 2.5 0 1 0 5.0 0a2.5 2.5 0 1 0 -5.0 0M652.8 22.5a2.5 2.5 0 1 0 5.0 0a2.5 2.5 0 1 0 -5.0 0M656.3 21.6a2.5 2.5 0 1 0 5.0 0a2.5 2.5 0 1 0 -5.0 0M659.8 22.5a2.5 2.5 0 1 0 5.0 0a2.5 2.5 0 1 0 -5.0 0M635.3 27.3a2.5 2.5 0 1 0 5.0 0a2.5 2.5 0 1 0 -5.0 0M641.4 28.2a2.5 2.5 0 1 0 5.0 0a2.5 2.5 0 1 0 -5.0 0M646.7 28.6a2.5 2.5 0 1 0 5.0 0a2.5 2.5 0 1 0 -5.0 0M651.0 28.2a2.5 2.5 0 1 0 5.0 0a2.5 2.5 0 1 0 -5.0 0M656.3 29.1a2.5 2.5 0 1 0 5.0 0a2.5 2.5 0 1 0 -5.0 0M621.3 30.0a2.5 2.5 0 1 0 5.0 0a2.5 2.5 0 1 0 -5.0 0M502.6 199.8a2.5 2.5 0 1 0 5.0 0a2.5 2.5 0 1 0 -5.0 0M509.8 209.0a2.5 2.5 0 1 0 5.0 0a2.5 2.5 0 1 0 -5.0 0M486.1 215.6a2.5 2.5 0 1 0 5.0 0a2.5 2.5 0 1 0 -5.0 0M492.7 215.3a2.5 2.5 0 1 0 5.0 0a2.5 2.5 0 1 0 -5.0 0M487.2 220.7a2.5 2.5 0 1 0 5.0 0a2.5 2.5 0 1 0 -5.0 0M540.9 199.2a2.5 2.5 0 1 0 5.0 0a2.5 2.5 0 1 0 -5.0 0M548.2 199.2a2.5 2.5 0 1 0 5.0 0a2.5 2.5 0 1 0 -5.0 0M595.0 49.6a2.5 2.5 0 1 0 5.0 0a2.5 2.5 0 1 0 -5.0 0M583.9 58.9a2.5 2.5 0 1 0 5.0 0a2.5 2.5 0 1 0 -5.0 0M588.0 63.0a2.5 2.5 0 1 0 5.0 0a2.5 2.5 0 1 0 -5.0 0M594.4 62.8a2.5 2.5 0 1 0 5.0 0a2.5 2.5 0 1 0 -5.0 0M600.3 63.0a2.5 2.5 0 1 0 5.0 0a2.5 2.5 0 1 0 -5.0 0M602.0 58.4a2.5 2.5 0 1 0 5.0 0a2.5 2.5 0 1 0 -5.0 0M604.4 56.6a2.5 2.5 0 1 0 5.0 0a2.5 2.5 0 1 0 -5.0 0M606.1 53.7a2.5 2.5 0 1 0 5.0 0a2.5 2.5 0 1 0 -5.0 0M604.4 60.1a2.5 2.5 0 1 0 5.0 0a2.5 2.5 0 1 0 -5.0 0M612.5 49.0a2.5 2.5 0 1 0 5.0 0a2.5 2.5 0 1 0 -5.0 0M616.0 52.5a2.5 2.5 0 1 0 5.0 0a2.5 2.5 0 1 0 -5.0 0M625.4 39.7a2.5 2.5 0 1 0 5.0 0a2.5 2.5 0 1 0 -5.0 0M628.9 36.2a2.5 2.5 0 1 0 5.0 0a2.5 2.5 0 1 0 -5.0 0M623.0 44.3a2.5 2.5 0 1 0 5.0 0a2.5 2.5 0 1 0 -5.0 0M624.2 48.4a2.5 2.5 0 1 0 5.0 0a2.5 2.5 0 1 0 -5.0 0M622.5 54.9a2.5 2.5 0 1 0 5.0 0a2.5 2.5 0 1 0 -5.0 0M620.7 58.9a2.5 2.5 0 1 0 5.0 0a2.5 2.5 0 1 0 -5.0 0M609.0 63.0a2.5 2.5 0 1 0 5.0 0a2.5 2.5 0 1 0 -5.0 0M609.6 65.4a2.5 2.5 0 1 0 5.0 0a2.5 2.5 0 1 0 -5.0 0M596.2 68.3a2.5 2.5 0 1 0 5.0 0a2.5 2.5 0 1 0 -5.0 0M595.6 70.6a2.5 2.5 0 1 0 5.0 0a2.5 2.5 0 1 0 -5.0 0M583.9 70.0a2.5 2.5 0 1 0 5.0 0a2.5 2.5 0 1 0 -5.0 0M579.8 73.5a2.5 2.5 0 1 0 5.0 0a2.5 2.5 0 1 0 -5.0 0M586.3 75.9a2.5 2.5 0 1 0 5.0 0a2.5 2.5 0 1 0 -5.0 0M586.8 78.2a2.5 2.5 0 1 0 5.0 0a2.5 2.5 0 1 0 -5.0 0M591.5 78.8a2.5 2.5 0 1 0 5.0 0a2.5 2.5 0 1 0 -5.0 0M592.7 81.1a2.5 2.5 0 1 0 5.0 0a2.5 2.5 0 1 0 -5.0 0M597.4 81.7a2.5 2.5 0 1 0 5.0 0a2.5 2.5 0 1 0 -5.0 0M603.2 72.4a2.5 2.5 0 1 0 5.0 0a2.5 2.5 0 1 0 -5.0 0M606.7 73.5a2.5 2.5 0 1 0 5.0 0a2.5 2.5 0 1 0 -5.0 0M609.0 73.5a2.5 2.5 0 1 0 5.0 0a2.5 2.5 0 1 0 -5.0 0M604.9 76.5a2.5 2.5 0 1 0 5.0 0a2.5 2.5 0 1 0 -5.0 0M607.9 77.0a2.5 2.5 0 1 0 5.0 0a2.5 2.5 0 1 0 -5.0 0M610.2 79.4a2.5 2.5 0 1 0 5.0 0a2.5 2.5 0 1 0 -5.0 0M609.6 81.7a2.5 2.5 0 1 0 5.0 0a2.5 2.5 0 1 0 -5.0 0M615.5 66.0a2.5 2.5 0 1 0 5.0 0a2.5 2.5 0 1 0 -5.0 0M617.8 67.7a2.5 2.5 0 1 0 5.0 0a2.5 2.5 0 1 0 -5.0 0M614.9 70.0a2.5 2.5 0 1 0 5.0 0a2.5 2.5 0 1 0 -5.0 0M616.6 74.7a2.5 2.5 0 1 0 5.0 0a2.5 2.5 0 1 0 -5.0 0M619.5 76.5a2.5 2.5 0 1 0 5.0 0a2.5 2.5 0 1 0 -5.0 0M620.7 71.2a2.5 2.5 0 1 0 5.0 0a2.5 2.5 0 1 0 -5.0 0M623.0 68.9a2.5 2.5 0 1 0 5.0 0a2.5 2.5 0 1 0 -5.0 0M625.4 67.7a2.5 2.5 0 1 0 5.0 0a2.5 2.5 0 1 0 -5.0 0M623.6 63.0a2.5 2.5 0 1 0 5.0 0a2.5 2.5 0 1 0 -5.0 0M621.9 73.5a2.5 2.5 0 1 0 5.0 0a2.5 2.5 0 1 0 -5.0 0M624.2 73.5a2.5 2.5 0 1 0 5.0 0a2.5 2.5 0 1 0 -5.0 0M623.6 79.4a2.5 2.5 0 1 0 5.0 0a2.5 2.5 0 1 0 -5.0 0M616.0 80.5a2.5 2.5 0 1 0 5.0 0a2.5 2.5 0 1 0 -5.0 0M619.5 82.9a2.5 2.5 0 1 0 5.0 0a2.5 2.5 0 1 0 -5.0 0M624.2 82.9a2.5 2.5 0 1 0 5.0 0a2.5 2.5 0 1 0 -5.0 0M639.6 99.3a2.5 2.5 0 1 0 5.0 0a2.5 2.5 0 1 0 -5.0 0M624.0 98.3a2.5 2.5 0 1 0 5.0 0a2.5 2.5 0 1 0 -5.0 0M651.1 46.3a2.5 2.5 0 1 0 5.0 0a2.5 2.5 0 1 0 -5.0 0M651.5 50.4a2.5 2.5 0 1 0 5.0 0a2.5 2.5 0 1 0 -5.0 0M633.9 49.6a2.5 2.5 0 1 0 5.0 0a2.5 2.5 0 1 0 -5.0 0M630.5 53.0a2.5 2.5 0 1 0 5.0 0a2.5 2.5 0 1 0 -5.0 0M638.9 50.0a2.5 2.5 0 1 0 5.0 0a2.5 2.5 0 1 0 -5.0 0M642.3 50.4a2.5 2.5 0 1 0 5.0 0a2.5 2.5 0 1 0 -5.0 0M645.6 50.9a2.5 2.5 0 1 0 5.0 0a2.5 2.5 0 1 0 -5.0 0M634.7 53.4a2.5 2.5 0 1 0 5.0 0a2.5 2.5 0 1 0 -5.0 0M633.0 56.7a2.5 2.5 0 1 0 5.0 0a2.5 2.5 0 1 0 -5.0 0M640.2 53.4a2.5 2.5 0 1 0 5.0 0a2.5 2.5 0 1 0 -5.0 0M643.1 55.1a2.5 2.5 0 1 0 5.0 0a2.5 2.5 0 1 0 -5.0 0M636.4 57.6a2.5 2.5 0 1 0 5.0 0a2.5 2.5 0 1 0 -5.0 0M633.0 59.7a2.5 2.5 0 1 0 5.0 0a2.5 2.5 0 1 0 -5.0 0M642.3 57.6a2.5 2.5 0 1 0 5.0 0a2.5 2.5 0 1 0 -5.0 0M643.9 59.7a2.5 2.5 0 1 0 5.0 0a2.5 2.5 0 1 0 -5.0 0M626.3 60.9a2.5 2.5 0 1 0 5.0 0a2.5 2.5 0 1 0 -5.0 0M628.9 62.6a2.5 2.5 0 1 0 5.0 0a2.5 2.5 0 1 0 -5.0 0M627.2 70.1a2.5 2.5 0 1 0 5.0 0a2.5 2.5 0 1 0 -5.0 0M628.9 73.5a2.5 2.5 0 1 0 5.0 0a2.5 2.5 0 1 0 -5.0 0M627.2 76.0a2.5 2.5 0 1 0 5.0 0a2.5 2.5 0 1 0 -5.0 0M628.9 78.5a2.5 2.5 0 1 0 5.0 0a2.5 2.5 0 1 0 -5.0 0M628.9 82.7a2.5 2.5 0 1 0 5.0 0a2.5 2.5 0 1 0 -5.0 0M635.6 63.0a2.5 2.5 0 1 0 5.0 0a2.5 2.5 0 1 0 -5.0 0M634.7 67.2a2.5 2.5 0 1 0 5.0 0a2.5 2.5 0 1 0 -5.0 0M636.4 69.3a2.5 2.5 0 1 0 5.0 0a2.5 2.5 0 1 0 -5.0 0M639.8 67.6a2.5 2.5 0 1 0 5.0 0a2.5 2.5 0 1 0 -5.0 0M642.3 66.0a2.5 2.5 0 1 0 5.0 0a2.5 2.5 0 1 0 -5.0 0M643.9 64.3a2.5 2.5 0 1 0 5.0 0a2.5 2.5 0 1 0 -5.0 0M638.9 70.1a2.5 2.5 0 1 0 5.0 0a2.5 2.5 0 1 0 -5.0 0M642.3 71.0a2.5 2.5 0 1 0 5.0 0a2.5 2.5 0 1 0 -5.0 0M644.8 68.5a2.5 2.5 0 1 0 5.0 0a2.5 2.5 0 1 0 -5.0 0M647.3 67.6a2.5 2.5 0 1 0 5.0 0a2.5 2.5 0 1 0 -5.0 0M650.6 63.0a2.5 2.5 0 1 0 5.0 0a2.5 2.5 0 1 0 -5.0 0M649.0 66.0a2.5 2.5 0 1 0 5.0 0a2.5 2.5 0 1 0 -5.0 0M651.5 66.0a2.5 2.5 0 1 0 5.0 0a2.5 2.5 0 1 0 -5.0 0M646.5 71.8a2.5 2.5 0 1 0 5.0 0a2.5 2.5 0 1 0 -5.0 0M649.0 72.7a2.5 2.5 0 1 0 5.0 0a2.5 2.5 0 1 0 -5.0 0M650.6 71.0a2.5 2.5 0 1 0 5.0 0a2.5 2.5 0 1 0 -5.0 0M653.2 70.1a2.5 2.5 0 1 0 5.0 0a2.5 2.5 0 1 0 -5.0 0M655.7 68.5a2.5 2.5 0 1 0 5.0 0a2.5 2.5 0 1 0 -5.0 0M658.2 69.3a2.5 2.5 0 1 0 5.0 0a2.5 2.5 0 1 0 -5.0 0M660.7 70.1a2.5 2.5 0 1 0 5.0 0a2.5 2.5 0 1 0 -5.0 0M662.4 71.8a2.5 2.5 0 1 0 5.0 0a2.5 2.5 0 1 0 -5.0 0M664.1 73.5a2.5 2.5 0 1 0 5.0 0a2.5 2.5 0 1 0 -5.0 0M654.0 73.5a2.5 2.5 0 1 0 5.0 0a2.5 2.5 0 1 0 -5.0 0M656.5 73.5a2.5 2.5 0 1 0 5.0 0a2.5 2.5 0 1 0 -5.0 0M659.9 74.3a2.5 2.5 0 1 0 5.0 0a2.5 2.5 0 1 0 -5.0 0M644.8 75.2a2.5 2.5 0 1 0 5.0 0a2.5 2.5 0 1 0 -5.0 0M647.3 75.2a2.5 2.5 0 1 0 5.0 0a2.5 2.5 0 1 0 -5.0 0M650.6 75.2a2.5 2.5 0 1 0 5.0 0a2.5 2.5 0 1 0 -5.0 0M642.3 77.7a2.5 2.5 0 1 0 5.0 0a2.5 2.5 0 1 0 -5.0 0M644.8 79.4a2.5 2.5 0 1 0 5.0 0a2.5 2.5 0 1 0 -5.0 0M653.2 76.9a2.5 2.5 0 1 0 5.0 0a2.5 2.5 0 1 0 -5.0 0M655.7 77.7a2.5 2.5 0 1 0 5.0 0a2.5 2.5 0 1 0 -5.0 0M661.5 76.9a2.5 2.5 0 1 0 5.0 0a2.5 2.5 0 1 0 -5.0 0M664.1 76.9a2.5 2.5 0 1 0 5.0 0a2.5 2.5 0 1 0 -5.0 0M664.9 79.4a2.5 2.5 0 1 0 5.0 0a2.5 2.5 0 1 0 -5.0 0M657.4 79.4a2.5 2.5 0 1 0 5.0 0a2.5 2.5 0 1 0 -5.0 0M659.9 80.2a2.5 2.5 0 1 0 5.0 0a2.5 2.5 0 1 0 -5.0 0M662.4 81.0a2.5 2.5 0 1 0 5.0 0a2.5 2.5 0 1 0 -5.0 0M667.4 76.9a2.5 2.5 0 1 0 5.0 0a2.5 2.5 0 1 0 -5.0 0M668.2 79.4a2.5 2.5 0 1 0 5.0 0a2.5 2.5 0 1 0 -5.0 0M663.6 61.8a2.5 2.5 0 1 0 5.0 0a2.5 2.5 0 1 0 -5.0 0M664.5 65.1a2.5 2.5 0 1 0 5.0 0a2.5 2.5 0 1 0 -5.0 0M650.6 83.6a2.5 2.5 0 1 0 5.0 0a2.5 2.5 0 1 0 -5.0 0M653.2 81.9a2.5 2.5 0 1 0 5.0 0a2.5 2.5 0 1 0 -5.0 0M655.7 82.7a2.5 2.5 0 1 0 5.0 0a2.5 2.5 0 1 0 -5.0 0M637.2 86.1a2.5 2.5 0 1 0 5.0 0a2.5 2.5 0 1 0 -5.0 0M640.6 84.4a2.5 2.5 0 1 0 5.0 0a2.5 2.5 0 1 0 -5.0 0M643.9 84.4a2.5 2.5 0 1 0 5.0 0a2.5 2.5 0 1 0 -5.0 0M645.6 86.1a2.5 2.5 0 1 0 5.0 0a2.5 2.5 0 1 0 -5.0 0M649.8 88.6a2.5 2.5 0 1 0 5.0 0a2.5 2.5 0 1 0 -5.0 0M652.3 86.9a2.5 2.5 0 1 0 5.0 0a2.5 2.5 0 1 0 -5.0 0M654.8 86.9a2.5 2.5 0 1 0 5.0 0a2.5 2.5 0 1 0 -5.0 0M657.4 88.6a2.5 2.5 0 1 0 5.0 0a2.5 2.5 0 1 0 -5.0 0M660.7 89.4a2.5 2.5 0 1 0 5.0 0a2.5 2.5 0 1 0 -5.0 0M664.1 90.3a2.5 2.5 0 1 0 5.0 0a2.5 2.5 0 1 0 -5.0 0M654.8 91.1a2.5 2.5 0 1 0 5.0 0a2.5 2.5 0 1 0 -5.0 0M658.2 91.9a2.5 2.5 0 1 0 5.0 0a2.5 2.5 0 1 0 -5.0 0M630.5 91.1a2.5 2.5 0 1 0 5.0 0a2.5 2.5 0 1 0 -5.0 0M632.2 93.6a2.5 2.5 0 1 0 5.0 0a2.5 2.5 0 1 0 -5.0 0M635.6 93.6a2.5 2.5 0 1 0 5.0 0a2.5 2.5 0 1 0 -5.0 0M645.6 92.8a2.5 2.5 0 1 0 5.0 0a2.5 2.5 0 1 0 -5.0 0M649.0 93.6a2.5 2.5 0 1 0 5.0 0a2.5 2.5 0 1 0 -5.0 0M646.2 22.1a2.5 2.5 0 1 0 5.0 0a2.5 2.5 0 1 0 -5.0 0M649.3 20.8a2.5 2.5 0 1 0 5.0 0a2.5 2.5 0 1 0 -5.0 0M651.0 23.8a2.5 2.5 0 1 0 5.0 0a2.5 2.5 0 1 0 -5.0 0M599.4 89.3a2.5 2.5 0 1 0 5.0 0a2.5 2.5 0 1 0 -5.0 0M604.5 89.2a2.5 2.5 0 1 0 5.0 0a2.5 2.5 0 1 0 -5.0 0M596.0 86.0a2.5 2.5 0 1 0 5.0 0a2.5 2.5 0 1 0 -5.0 0M462.1 106.6a2.5 2.5 0 1 0 5.0 0a2.5 2.5 0 1 0 -5.0 0M441.0 114.3a2.5 2.5 0 1 0 5.0 0a2.5 2.5 0 1 0 -5.0 0M440.6 127.9a2.5 2.5 0 1 0 5.0 0a2.5 2.5 0 1 0 -5.0 0M453.3 126.0a2.5 2.5 0 1 0 5.0 0a2.5 2.5 0 1 0 -5.0 0M469.1 124.2a2.5 2.5 0 1 0 5.0 0a2.5 2.5 0 1 0 -5.0 0M484.4 137.4a2.5 2.5 0 1 0 5.0 0a2.5 2.5 0 1 0 -5.0 0M477.1 141.6a2.5 2.5 0 1 0 5.0 0a2.5 2.5 0 1 0 -5.0 0M423.4 148.6a2.5 2.5 0 1 0 5.0 0a2.5 2.5 0 1 0 -5.0 0M441.3 147.2a2.5 2.5 0 1 0 5.0 0a2.5 2.5 0 1 0 -5.0 0M400.9 222.2a2.5 2.5 0 1 0 5.0 0a2.5 2.5 0 1 0 -5.0 0M402.9 221.7a2.5 2.5 0 1 0 5.0 0a2.5 2.5 0 1 0 -5.0 0M414.3 224.8a2.5 2.5 0 1 0 5.0 0a2.5 2.5 0 1 0 -5.0 0M431.1 220.7a2.5 2.5 0 1 0 5.0 0a2.5 2.5 0 1 0 -5.0 0M434.0 223.9a2.5 2.5 0 1 0 5.0 0a2.5 2.5 0 1 0 -5.0 0M435.2 212.7a2.5 2.5 0 1 0 5.0 0a2.5 2.5 0 1 0 -5.0 0M441.8 216.8a2.5 2.5 0 1 0 5.0 0a2.5 2.5 0 1 0 -5.0 0M453.3 216.0a2.5 2.5 0 1 0 5.0 0a2.5 2.5 0 1 0 -5.0 0M454.5 210.0a2.5 2.5 0 1 0 5.0 0a2.5 2.5 0 1 0 -5.0 0M470.1 172.1a2.5 2.5 0 1 0 5.0 0a2.5 2.5 0 1 0 -5.0 0M470.1 200.5a2.5 2.5 0 1 0 5.0 0a2.5 2.5 0 1 0 -5.0 0M484.4 185.2a2.5 2.5 0 1 0 5.0 0a2.5 2.5 0 1 0 -5.0 0M478.3 216.0a2.5 2.5 0 1 0 5.0 0a2.5 2.5 0 1 0 -5.0 0M478.3 222.9a2.5 2.5 0 1 0 5.0 0a2.5 2.5 0 1 0 -5.0 0M580.4 101.6a2.5 2.5 0 1 0 5.0 0a2.5 2.5 0 1 0 -5.0 0M578.7 106.0a2.5 2.5 0 1 0 5.0 0a2.5 2.5 0 1 0 -5.0 0M579.0 109.6a2.5 2.5 0 1 0 5.0 0a2.5 2.5 0 1 0 -5.0 0M596.0 105.5a2.5 2.5 0 1 0 5.0 0a2.5 2.5 0 1 0 -5.0 0M608.6 110.0a2.5 2.5 0 1 0 5.0 0a2.5 2.5 0 1 0 -5.0 0M622.5 109.6a2.5 2.5 0 1 0 5.0 0a2.5 2.5 0 1 0 -5.0 0M638.1 109.2a2.5 2.5 0 1 0 5.0 0a2.5 2.5 0 1 0 -5.0 0M653.4 102.3a2.5 2.5 0 1 0 5.0 0a2.5 2.5 0 1 0 -5.0 0M631.5 95.5a2.5 2.5 0 1 0 5.0 0a2.5 2.5 0 1 0 -5.0 0M648.3 95.5a2.5 2.5 0 1 0 5.0 0a2.5 2.5 0 1 0 -5.0 0M656.3 95.5a2.5 2.5 0 1 0 5.0 0a2.5 2.5 0 1 0 -5.0 0M604.1 122.7a2.5 2.5 0 1 0 5.0 0a2.5 2.5 0 1 0 -5.0 0M596.5 125.7a2.5 2.5 0 1 0 5.0 0a2.5 2.5 0 1 0 -5.0 0M579.0 131.8a2.5 2.5 0 1 0 5.0 0a2.5 2.5 0 1 0 -5.0 0M592.8 134.0a2.5 2.5 0 1 0 5.0 0a2.5 2.5 0 1 0 -5.0 0M609.6 131.9a2.5 2.5 0 1 0 5.0 0a2.5 2.5 0 1 0 -5.0 0M614.4 134.0a2.5 2.5 0 1 0 5.0 0a2.5 2.5 0 1 0 -5.0 0M584.5 142.9a2.5 2.5 0 1 0 5.0 0a2.5 2.5 0 1 0 -5.0 0M589.9 147.6a2.5 2.5 0 1 0 5.0 0a2.5 2.5 0 1 0 -5.0 0M602.3 143.9a2.5 2.5 0 1 0 5.0 0a2.5 2.5 0 1 0 -5.0 0M603.0 146.8a2.5 2.5 0 1 0 5.0 0a2.5 2.5 0 1 0 -5.0 0M603.5 153.4a2.5 2.5 0 1 0 5.0 0a2.5 2.5 0 1 0 -5.0 0M624.9 141.0a2.5 2.5 0 1 0 5.0 0a2.5 2.5 0 1 0 -5.0 0M635.6 143.5a2.5 2.5 0 1 0 5.0 0a2.5 2.5 0 1 0 -5.0 0M647.6 141.0a2.5 2.5 0 1 0 5.0 0a2.5 2.5 0 1 0 -5.0 0M635.6 153.4a2.5 2.5 0 1 0 5.0 0a2.5 2.5 0 1 0 -5.0 0M583.3 165.4a2.5 2.5 0 1 0 5.0 0a2.5 2.5 0 1 0 -5.0 0M596.2 164.8a2.5 2.5 0 1 0 5.0 0a2.5 2.5 0 1 0 -5.0 0M592.8 170.9a2.5 2.5 0 1 0 5.0 0a2.5 2.5 0 1 0 -5.0 0M489.0 122.4a2.5 2.5 0 1 0 5.0 0a2.5 2.5 0 1 0 -5.0 0M522.2 123.9a2.5 2.5 0 1 0 5.0 0a2.5 2.5 0 1 0 -5.0 0M522.5 126.1a2.5 2.5 0 1 0 5.0 0a2.5 2.5 0 1 0 -5.0 0M494.1 141.0a2.5 2.5 0 1 0 5.0 0a2.5 2.5 0 1 0 -5.0 0M489.3 145.5a2.5 2.5 0 1 0 5.0 0a2.5 2.5 0 1 0 -5.0 0M506.5 140.4a2.5 2.5 0 1 0 5.0 0a2.5 2.5 0 1 0 -5.0 0M509.7 145.0a2.5 2.5 0 1 0 5.0 0a2.5 2.5 0 1 0 -5.0 0M521.8 141.0a2.5 2.5 0 1 0 5.0 0a2.5 2.5 0 1 0 -5.0 0M546.2 143.6a2.5 2.5 0 1 0 5.0 0a2.5 2.5 0 1 0 -5.0 0M557.9 141.0a2.5 2.5 0 1 0 5.0 0a2.5 2.5 0 1 0 -5.0 0M562.7 136.6a2.5 2.5 0 1 0 5.0 0a2.5 2.5 0 1 0 -5.0 0M566.3 143.6a2.5 2.5 0 1 0 5.0 0a2.5 2.5 0 1 0 -5.0 0M574.4 137.0a2.5 2.5 0 1 0 5.0 0a2.5 2.5 0 1 0 -5.0 0M575.1 134.8a2.5 2.5 0 1 0 5.0 0a2.5 2.5 0 1 0 -5.0 0M548.8 155.3a2.5 2.5 0 1 0 5.0 0a2.5 2.5 0 1 0 -5.0 0M561.2 153.5a2.5 2.5 0 1 0 5.0 0a2.5 2.5 0 1 0 -5.0 0M567.8 153.1a2.5 2.5 0 1 0 5.0 0a2.5 2.5 0 1 0 -5.0 0M570.0 160.8a2.5 2.5 0 1 0 5.0 0a2.5 2.5 0 1 0 -5.0 0M538.2 162.3a2.5 2.5 0 1 0 5.0 0a2.5 2.5 0 1 0 -5.0 0M533.5 167.4a2.5 2.5 0 1 0 5.0 0a2.5 2.5 0 1 0 -5.0 0M519.3 171.0a2.5 2.5 0 1 0 5.0 0a2.5 2.5 0 1 0 -5.0 0M499.9 184.2a2.5 2.5 0 1 0 5.0 0a2.5 2.5 0 1 0 -5.0 0M519.6 183.7a2.5 2.5 0 1 0 5.0 0a2.5 2.5 0 1 0 -5.0 0M507.2 63.9a2.5 2.5 0 1 0 5.0 0a2.5 2.5 0 1 0 -5.0 0M555.4 56.5a2.5 2.5 0 1 0 5.0 0a2.5 2.5 0 1 0 -5.0 0M562.0 62.7a2.5 2.5 0 1 0 5.0 0a2.5 2.5 0 1 0 -5.0 0M562.4 75.6a2.5 2.5 0 1 0 5.0 0a2.5 2.5 0 1 0 -5.0 0M577.3 80.3a2.5 2.5 0 1 0 5.0 0a2.5 2.5 0 1 0 -5.0 0M543.7 93.8a2.5 2.5 0 1 0 5.0 0a2.5 2.5 0 1 0 -5.0 0M497.4 106.2a2.5 2.5 0 1 0 5.0 0a2.5 2.5 0 1 0 -5.0 0M501.4 108.7a2.5 2.5 0 1 0 5.0 0a2.5 2.5 0 1 0 -5.0 0M528.1 107.6a2.5 2.5 0 1 0 5.0 0a2.5 2.5 0 1 0 -5.0 0M552.9 107.0a2.5 2.5 0 1 0 5.0 0a2.5 2.5 0 1 0 -5.0 0M563.4 111.9a2.5 2.5 0 1 0 5.0 0a2.5 2.5 0 1 0 -5.0 0M568.2 110.9a2.5 2.5 0 1 0 5.0 0a2.5 2.5 0 1 0 -5.0 0M576.5 110.6a2.5 2.5 0 1 0 5.0 0a2.5 2.5 0 1 0 -5.0 0" fill="#000"/>
<g clip-path="url(#c1)"><line x1="507.3" y1="233" x2="648.8" y2="4.5" stroke="#ff0000" stroke-width="2.9" stroke-dasharray="11.3 13.5" stroke-dashoffset="15.8" stroke-linecap="round"/>
<line x1="512.0" y1="233" x2="649.0" y2="4.5" stroke="#000" stroke-width="3.0"/></g>
<rect x="392.5" y="4.5" width="290.29999999999995" height="228.5" fill="none" stroke="#000" stroke-width="2.0"/>
<line x1="423.1" y1="233" x2="423.1" y2="247.2" stroke="#000" stroke-width="1.5"/>
<text x="423.1" y="266.5" text-anchor="middle" font-size="16">-1.0</text>
<line x1="473.3" y1="233" x2="473.3" y2="247.2" stroke="#000" stroke-width="1.5"/>
<text x="473.3" y="266.5" text-anchor="middle" font-size="16">-0.8</text>
<line x1="523.5" y1="233" x2="523.5" y2="247.2" stroke="#000" stroke-width="1.5"/>
<text x="523.5" y="266.5" text-anchor="middle" font-size="16">-0.6</text>
<line x1="573.8" y1="233" x2="573.8" y2="247.2" stroke="#000" stroke-width="1.5"/>
<text x="573.8" y="266.5" text-anchor="middle" font-size="16">-0.4</text>
<line x1="624.0" y1="233" x2="624.0" y2="247.2" stroke="#000" stroke-width="1.5"/>
<text x="624.0" y="266.5" text-anchor="middle" font-size="16">-0.2</text>
<line x1="674.2" y1="233" x2="674.2" y2="247.2" stroke="#000" stroke-width="1.5"/>
<text x="674.2" y="266.5" text-anchor="middle" font-size="16">0.0</text>
<line x1="379.3" y1="5.7" x2="392.5" y2="5.7" stroke="#000" stroke-width="1.5"/>
<line x1="379.3" y1="46.2" x2="392.5" y2="46.2" stroke="#000" stroke-width="1.5"/>
<line x1="379.3" y1="86.7" x2="392.5" y2="86.7" stroke="#000" stroke-width="1.5"/>
<line x1="379.3" y1="127.2" x2="392.5" y2="127.2" stroke="#000" stroke-width="1.5"/>
<line x1="379.3" y1="167.7" x2="392.5" y2="167.7" stroke="#000" stroke-width="1.5"/>
<line x1="379.3" y1="208.2" x2="392.5" y2="208.2" stroke="#000" stroke-width="1.5"/>
<text transform="translate(375.6,46.2) rotate(-90)" x="0" y="0" text-anchor="middle" font-size="16">-0.2</text>
<text transform="translate(375.6,127.2) rotate(-90)" x="0" y="0" text-anchor="middle" font-size="16">-0.4</text>
<text transform="translate(375.6,208.2) rotate(-90)" x="0" y="0" text-anchor="middle" font-size="16">-0.6</text>
<text x="408.2" y="25.2" font-size="12.9">response ~ SWC</text>
<text x="404.5" y="50.6" font-size="12.9" fill="#111">R</text>
<text x="413.7" y="44.2" font-size="9.3" fill="#111">2</text>
<path d="M422.3 46.5H429.1M422.3 48.6H429.1" stroke="#444" stroke-width="0.95" fill="none"/>
<text x="432.1" y="50.6" font-size="12.9" fill="#111">0.35</text>
<clipPath id="c2"><rect x="52.1" y="308.8" width="289.9" height="228.59999999999997"/></clipPath>
<path d="M137.8 448.3a2.5 2.5 0 1 0 5.0 0a2.5 2.5 0 1 0 -5.0 0M146.6 453.0a2.5 2.5 0 1 0 5.0 0a2.5 2.5 0 1 0 -5.0 0M145.9 455.9a2.5 2.5 0 1 0 5.0 0a2.5 2.5 0 1 0 -5.0 0M60.5 526.2a2.5 2.5 0 1 0 5.0 0a2.5 2.5 0 1 0 -5.0 0M62.3 528.7a2.5 2.5 0 1 0 5.0 0a2.5 2.5 0 1 0 -5.0 0M74.0 485.4a2.5 2.5 0 1 0 5.0 0a2.5 2.5 0 1 0 -5.0 0M75.0 502.0a2.5 2.5 0 1 0 5.0 0a2.5 2.5 0 1 0 -5.0 0M83.1 513.7a2.5 2.5 0 1 0 5.0 0a2.5 2.5 0 1 0 -5.0 0M90.8 513.1a2.5 2.5 0 1 0 5.0 0a2.5 2.5 0 1 0 -5.0 0M95.0 485.4a2.5 2.5 0 1 0 5.0 0a2.5 2.5 0 1 0 -5.0 0M100.6 486.8a2.5 2.5 0 1 0 5.0 0a2.5 2.5 0 1 0 -5.0 0M95.0 494.0a2.5 2.5 0 1 0 5.0 0a2.5 2.5 0 1 0 -5.0 0M100.9 493.5a2.5 2.5 0 1 0 5.0 0a2.5 2.5 0 1 0 -5.0 0M93.3 502.0a2.5 2.5 0 1 0 5.0 0a2.5 2.5 0 1 0 -5.0 0M101.6 498.8a2.5 2.5 0 1 0 5.0 0a2.5 2.5 0 1 0 -5.0 0M113.0 481.3a2.5 2.5 0 1 0 5.0 0a2.5 2.5 0 1 0 -5.0 0M113.0 486.4a2.5 2.5 0 1 0 5.0 0a2.5 2.5 0 1 0 -5.0 0M114.2 493.0a2.5 2.5 0 1 0 5.0 0a2.5 2.5 0 1 0 -5.0 0M121.8 473.2a2.5 2.5 0 1 0 5.0 0a2.5 2.5 0 1 0 -5.0 0M128.8 464.8a2.5 2.5 0 1 0 5.0 0a2.5 2.5 0 1 0 -5.0 0M129.8 474.3a2.5 2.5 0 1 0 5.0 0a2.5 2.5 0 1 0 -5.0 0M137.4 462.0a2.5 2.5 0 1 0 5.0 0a2.5 2.5 0 1 0 -5.0 0M144.1 477.6a2.5 2.5 0 1 0 5.0 0a2.5 2.5 0 1 0 -5.0 0M136.8 491.9a2.5 2.5 0 1 0 5.0 0a2.5 2.5 0 1 0 -5.0 0M144.1 506.1a2.5 2.5 0 1 0 5.0 0a2.5 2.5 0 1 0 -5.0 0M149.0 452.3a2.5 2.5 0 1 0 5.0 0a2.5 2.5 0 1 0 -5.0 0M152.6 452.7a2.5 2.5 0 1 0 5.0 0a2.5 2.5 0 1 0 -5.0 0M149.7 455.9a2.5 2.5 0 1 0 5.0 0a2.5 2.5 0 1 0 -5.0 0M160.9 444.5a2.5 2.5 0 1 0 5.0 0a2.5 2.5 0 1 0 -5.0 0M166.5 436.2a2.5 2.5 0 1 0 5.0 0a2.5 2.5 0 1 0 -5.0 0M169.4 435.2a2.5 2.5 0 1 0 5.0 0a2.5 2.5 0 1 0 -5.0 0M169.7 447.4a2.5 2.5 0 1 0 5.0 0a2.5 2.5 0 1 0 -5.0 0M162.4 456.6a2.5 2.5 0 1 0 5.0 0a2.5 2.5 0 1 0 -5.0 0M178.9 455.2a2.5 2.5 0 1 0 5.0 0a2.5 2.5 0 1 0 -5.0 0M183.7 419.4a2.5 2.5 0 1 0 5.0 0a2.5 2.5 0 1 0 -5.0 0M191.3 426.7a2.5 2.5 0 1 0 5.0 0a2.5 2.5 0 1 0 -5.0 0M187.2 431.8a2.5 2.5 0 1 0 5.0 0a2.5 2.5 0 1 0 -5.0 0M195.7 436.6a2.5 2.5 0 1 0 5.0 0a2.5 2.5 0 1 0 -5.0 0M201.2 437.7a2.5 2.5 0 1 0 5.0 0a2.5 2.5 0 1 0 -5.0 0M203.7 440.1a2.5 2.5 0 1 0 5.0 0a2.5 2.5 0 1 0 -5.0 0M204.4 433.3a2.5 2.5 0 1 0 5.0 0a2.5 2.5 0 1 0 -5.0 0M208.1 434.7a2.5 2.5 0 1 0 5.0 0a2.5 2.5 0 1 0 -5.0 0M193.2 454.5a2.5 2.5 0 1 0 5.0 0a2.5 2.5 0 1 0 -5.0 0M200.8 456.2a2.5 2.5 0 1 0 5.0 0a2.5 2.5 0 1 0 -5.0 0M201.8 403.4a2.5 2.5 0 1 0 5.0 0a2.5 2.5 0 1 0 -5.0 0M198.3 408.5a2.5 2.5 0 1 0 5.0 0a2.5 2.5 0 1 0 -5.0 0M201.5 410.4a2.5 2.5 0 1 0 5.0 0a2.5 2.5 0 1 0 -5.0 0M205.9 415.0a2.5 2.5 0 1 0 5.0 0a2.5 2.5 0 1 0 -5.0 0M208.1 421.6a2.5 2.5 0 1 0 5.0 0a2.5 2.5 0 1 0 -5.0 0M212.5 419.4a2.5 2.5 0 1 0 5.0 0a2.5 2.5 0 1 0 -5.0 0M214.9 423.8a2.5 2.5 0 1 0 5.0 0a2.5 2.5 0 1 0 -5.0 0M214.9 427.0a2.5 2.5 0 1 0 5.0 0a2.5 2.5 0 1 0 -5.0 0M212.5 399.0a2.5 2.5 0 1 0 5.0 0a2.5 2.5 0 1 0 -5.0 0M212.5 402.6a2.5 2.5 0 1 0 5.0 0a2.5 2.5 0 1 0 -5.0 0M214.9 439.9a2.5 2.5 0 1 0 5.0 0a2.5 2.5 0 1 0 -5.0 0M221.7 418.7a2.5 2.5 0 1 0 5.0 0a2.5 2.5 0 1 0 -5.0 0M224.4 414.7a2.5 2.5 0 1 0 5.0 0a2.5 2.5 0 1 0 -5.0 0M226.3 404.1a2.5 2.5 0 1 0 5.0 0a2.5 2.5 0 1 0 -5.0 0M222.0 432.6a2.5 2.5 0 1 0 5.0 0a2.5 2.5 0 1 0 -5.0 0M222.2 443.5a2.5 2.5 0 1 0 5.0 0a2.5 2.5 0 1 0 -5.0 0M226.3 447.4a2.5 2.5 0 1 0 5.0 0a2.5 2.5 0 1 0 -5.0 0M224.9 392.4a2.5 2.5 0 1 0 5.0 0a2.5 2.5 0 1 0 -5.0 0M227.1 390.2a2.5 2.5 0 1 0 5.0 0a2.5 2.5 0 1 0 -5.0 0M233.6 393.1a2.5 2.5 0 1 0 5.0 0a2.5 2.5 0 1 0 -5.0 0M238.7 385.1a2.5 2.5 0 1 0 5.0 0a2.5 2.5 0 1 0 -5.0 0M240.9 386.6a2.5 2.5 0 1 0 5.0 0a2.5 2.5 0 1 0 -5.0 0M240.2 394.6a2.5 2.5 0 1 0 5.0 0a2.5 2.5 0 1 0 -5.0 0M239.2 402.6a2.5 2.5 0 1 0 5.0 0a2.5 2.5 0 1 0 -5.0 0M238.0 407.0a2.5 2.5 0 1 0 5.0 0a2.5 2.5 0 1 0 -5.0 0M243.6 407.0a2.5 2.5 0 1 0 5.0 0a2.5 2.5 0 1 0 -5.0 0M231.4 413.3a2.5 2.5 0 1 0 5.0 0a2.5 2.5 0 1 0 -5.0 0M233.9 411.4a2.5 2.5 0 1 0 5.0 0a2.5 2.5 0 1 0 -5.0 0M235.1 418.2a2.5 2.5 0 1 0 5.0 0a2.5 2.5 0 1 0 -5.0 0M240.2 415.8a2.5 2.5 0 1 0 5.0 0a2.5 2.5 0 1 0 -5.0 0M243.9 418.0a2.5 2.5 0 1 0 5.0 0a2.5 2.5 0 1 0 -5.0 0M237.3 423.5a2.5 2.5 0 1 0 5.0 0a2.5 2.5 0 1 0 -5.0 0M229.3 427.4a2.5 2.5 0 1 0 5.0 0a2.5 2.5 0 1 0 -5.0 0M233.6 430.4a2.5 2.5 0 1 0 5.0 0a2.5 2.5 0 1 0 -5.0 0M243.1 426.7a2.5 2.5 0 1 0 5.0 0a2.5 2.5 0 1 0 -5.0 0M243.1 433.3a2.5 2.5 0 1 0 5.0 0a2.5 2.5 0 1 0 -5.0 0M238.7 439.1a2.5 2.5 0 1 0 5.0 0a2.5 2.5 0 1 0 -5.0 0M243.9 440.6a2.5 2.5 0 1 0 5.0 0a2.5 2.5 0 1 0 -5.0 0M246.8 382.2a2.5 2.5 0 1 0 5.0 0a2.5 2.5 0 1 0 -5.0 0M246.8 393.1a2.5 2.5 0 1 0 5.0 0a2.5 2.5 0 1 0 -5.0 0M245.3 415.0a2.5 2.5 0 1 0 5.0 0a2.5 2.5 0 1 0 -5.0 0M166.2 461.6a2.5 2.5 0 1 0 5.0 0a2.5 2.5 0 1 0 -5.0 0M179.3 463.5a2.5 2.5 0 1 0 5.0 0a2.5 2.5 0 1 0 -5.0 0M159.9 477.6a2.5 2.5 0 1 0 5.0 0a2.5 2.5 0 1 0 -5.0 0M157.4 482.4a2.5 2.5 0 1 0 5.0 0a2.5 2.5 0 1 0 -5.0 0M153.6 486.0a2.5 2.5 0 1 0 5.0 0a2.5 2.5 0 1 0 -5.0 0M182.5 485.7a2.5 2.5 0 1 0 5.0 0a2.5 2.5 0 1 0 -5.0 0M197.9 490.8a2.5 2.5 0 1 0 5.0 0a2.5 2.5 0 1 0 -5.0 0M208.1 476.6a2.5 2.5 0 1 0 5.0 0a2.5 2.5 0 1 0 -5.0 0M223.1 461.6a2.5 2.5 0 1 0 5.0 0a2.5 2.5 0 1 0 -5.0 0M236.3 462.0a2.5 2.5 0 1 0 5.0 0a2.5 2.5 0 1 0 -5.0 0M229.3 465.5a2.5 2.5 0 1 0 5.0 0a2.5 2.5 0 1 0 -5.0 0M227.5 468.1a2.5 2.5 0 1 0 5.0 0a2.5 2.5 0 1 0 -5.0 0M217.6 475.4a2.5 2.5 0 1 0 5.0 0a2.5 2.5 0 1 0 -5.0 0M220.5 473.2a2.5 2.5 0 1 0 5.0 0a2.5 2.5 0 1 0 -5.0 0M223.4 477.6a2.5 2.5 0 1 0 5.0 0a2.5 2.5 0 1 0 -5.0 0M227.8 475.1a2.5 2.5 0 1 0 5.0 0a2.5 2.5 0 1 0 -5.0 0M234.8 493.7a2.5 2.5 0 1 0 5.0 0a2.5 2.5 0 1 0 -5.0 0M320.1 317.0a2.5 2.5 0 1 0 5.0 0a2.5 2.5 0 1 0 -5.0 0M322.2 320.9a2.5 2.5 0 1 0 5.0 0a2.5 2.5 0 1 0 -5.0 0M328.3 322.5a2.5 2.5 0 1 0 5.0 0a2.5 2.5 0 1 0 -5.0 0M329.4 325.3a2.5 2.5 0 1 0 5.0 0a2.5 2.5 0 1 0 -5.0 0M319.0 325.8a2.5 2.5 0 1 0 5.0 0a2.5 2.5 0 1 0 -5.0 0M316.2 328.5a2.5 2.5 0 1 0 5.0 0a2.5 2.5 0 1 0 -5.0 0M320.1 330.2a2.5 2.5 0 1 0 5.0 0a2.5 2.5 0 1 0 -5.0 0M322.2 331.8a2.5 2.5 0 1 0 5.0 0a2.5 2.5 0 1 0 -5.0 0M325.0 330.7a2.5 2.5 0 1 0 5.0 0a2.5 2.5 0 1 0 -5.0 0M316.8 334.6a2.5 2.5 0 1 0 5.0 0a2.5 2.5 0 1 0 -5.0 0M319.0 334.6a2.5 2.5 0 1 0 5.0 0a2.5 2.5 0 1 0 -5.0 0M324.4 335.1a2.5 2.5 0 1 0 5.0 0a2.5 2.5 0 1 0 -5.0 0M316.2 340.0a2.5 2.5 0 1 0 5.0 0a2.5 2.5 0 1 0 -5.0 0M320.1 341.7a2.5 2.5 0 1 0 5.0 0a2.5 2.5 0 1 0 -5.0 0M311.3 340.0a2.5 2.5 0 1 0 5.0 0a2.5 2.5 0 1 0 -5.0 0M308.6 342.2a2.5 2.5 0 1 0 5.0 0a2.5 2.5 0 1 0 -5.0 0M274.6 347.2a2.5 2.5 0 1 0 5.0 0a2.5 2.5 0 1 0 -5.0 0M286.7 346.1a2.5 2.5 0 1 0 5.0 0a2.5 2.5 0 1 0 -5.0 0M289.4 348.2a2.5 2.5 0 1 0 5.0 0a2.5 2.5 0 1 0 -5.0 0M289.4 350.4a2.5 2.5 0 1 0 5.0 0a2.5 2.5 0 1 0 -5.0 0M293.8 343.9a2.5 2.5 0 1 0 5.0 0a2.5 2.5 0 1 0 -5.0 0M297.1 352.1a2.5 2.5 0 1 0 5.0 0a2.5 2.5 0 1 0 -5.0 0M303.6 346.1a2.5 2.5 0 1 0 5.0 0a2.5 2.5 0 1 0 -5.0 0M302.5 349.3a2.5 2.5 0 1 0 5.0 0a2.5 2.5 0 1 0 -5.0 0M305.3 348.2a2.5 2.5 0 1 0 5.0 0a2.5 2.5 0 1 0 -5.0 0M308.0 348.2a2.5 2.5 0 1 0 5.0 0a2.5 2.5 0 1 0 -5.0 0M310.2 346.6a2.5 2.5 0 1 0 5.0 0a2.5 2.5 0 1 0 -5.0 0M314.6 347.2a2.5 2.5 0 1 0 5.0 0a2.5 2.5 0 1 0 -5.0 0M308.0 351.0a2.5 2.5 0 1 0 5.0 0a2.5 2.5 0 1 0 -5.0 0M311.3 352.1a2.5 2.5 0 1 0 5.0 0a2.5 2.5 0 1 0 -5.0 0M313.5 354.3a2.5 2.5 0 1 0 5.0 0a2.5 2.5 0 1 0 -5.0 0M311.3 355.4a2.5 2.5 0 1 0 5.0 0a2.5 2.5 0 1 0 -5.0 0M281.2 355.9a2.5 2.5 0 1 0 5.0 0a2.5 2.5 0 1 0 -5.0 0M281.2 360.8a2.5 2.5 0 1 0 5.0 0a2.5 2.5 0 1 0 -5.0 0M289.9 355.4a2.5 2.5 0 1 0 5.0 0a2.5 2.5 0 1 0 -5.0 0M270.8 360.8a2.5 2.5 0 1 0 5.0 0a2.5 2.5 0 1 0 -5.0 0M294.9 360.8a2.5 2.5 0 1 0 5.0 0a2.5 2.5 0 1 0 -5.0 0M292.7 363.0a2.5 2.5 0 1 0 5.0 0a2.5 2.5 0 1 0 -5.0 0M302.5 359.7a2.5 2.5 0 1 0 5.0 0a2.5 2.5 0 1 0 -5.0 0M304.7 361.9a2.5 2.5 0 1 0 5.0 0a2.5 2.5 0 1 0 -5.0 0M314.6 357.6a2.5 2.5 0 1 0 5.0 0a2.5 2.5 0 1 0 -5.0 0M316.8 359.7a2.5 2.5 0 1 0 5.0 0a2.5 2.5 0 1 0 -5.0 0M320.1 356.5a2.5 2.5 0 1 0 5.0 0a2.5 2.5 0 1 0 -5.0 0M322.2 354.3a2.5 2.5 0 1 0 5.0 0a2.5 2.5 0 1 0 -5.0 0M323.3 349.9a2.5 2.5 0 1 0 5.0 0a2.5 2.5 0 1 0 -5.0 0M324.4 353.2a2.5 2.5 0 1 0 5.0 0a2.5 2.5 0 1 0 -5.0 0M311.3 359.7a2.5 2.5 0 1 0 5.0 0a2.5 2.5 0 1 0 -5.0 0M313.5 361.9a2.5 2.5 0 1 0 5.0 0a2.5 2.5 0 1 0 -5.0 0M322.2 359.7a2.5 2.5 0 1 0 5.0 0a2.5 2.5 0 1 0 -5.0 0M324.4 361.9a2.5 2.5 0 1 0 5.0 0a2.5 2.5 0 1 0 -5.0 0M327.7 362.5a2.5 2.5 0 1 0 5.0 0a2.5 2.5 0 1 0 -5.0 0M274.6 363.2a2.5 2.5 0 1 0 5.0 0a2.5 2.5 0 1 0 -5.0 0M289.4 365.4a2.5 2.5 0 1 0 5.0 0a2.5 2.5 0 1 0 -5.0 0M301.4 363.2a2.5 2.5 0 1 0 5.0 0a2.5 2.5 0 1 0 -5.0 0M321.2 361.6a2.5 2.5 0 1 0 5.0 0a2.5 2.5 0 1 0 -5.0 0M328.3 366.5a2.5 2.5 0 1 0 5.0 0a2.5 2.5 0 1 0 -5.0 0M269.1 367.0a2.5 2.5 0 1 0 5.0 0a2.5 2.5 0 1 0 -5.0 0M268.6 371.4a2.5 2.5 0 1 0 5.0 0a2.5 2.5 0 1 0 -5.0 0M275.2 370.3a2.5 2.5 0 1 0 5.0 0a2.5 2.5 0 1 0 -5.0 0M272.4 374.2a2.5 2.5 0 1 0 5.0 0a2.5 2.5 0 1 0 -5.0 0M281.7 368.1a2.5 2.5 0 1 0 5.0 0a2.5 2.5 0 1 0 -5.0 0M282.8 371.4a2.5 2.5 0 1 0 5.0 0a2.5 2.5 0 1 0 -5.0 0M285.0 370.3a2.5 2.5 0 1 0 5.0 0a2.5 2.5 0 1 0 -5.0 0M281.7 375.3a2.5 2.5 0 1 0 5.0 0a2.5 2.5 0 1 0 -5.0 0M282.8 378.0a2.5 2.5 0 1 0 5.0 0a2.5 2.5 0 1 0 -5.0 0M285.6 375.3a2.5 2.5 0 1 0 5.0 0a2.5 2.5 0 1 0 -5.0 0M291.0 372.5a2.5 2.5 0 1 0 5.0 0a2.5 2.5 0 1 0 -5.0 0M292.7 375.3a2.5 2.5 0 1 0 5.0 0a2.5 2.5 0 1 0 -5.0 0M296.0 376.9a2.5 2.5 0 1 0 5.0 0a2.5 2.5 0 1 0 -5.0 0M297.1 381.3a2.5 2.5 0 1 0 5.0 0a2.5 2.5 0 1 0 -5.0 0M299.3 382.9a2.5 2.5 0 1 0 5.0 0a2.5 2.5 0 1 0 -5.0 0M299.3 373.6a2.5 2.5 0 1 0 5.0 0a2.5 2.5 0 1 0 -5.0 0M300.3 375.8a2.5 2.5 0 1 0 5.0 0a2.5 2.5 0 1 0 -5.0 0M303.6 368.1a2.5 2.5 0 1 0 5.0 0a2.5 2.5 0 1 0 -5.0 0M304.7 365.4a2.5 2.5 0 1 0 5.0 0a2.5 2.5 0 1 0 -5.0 0M306.9 363.2a2.5 2.5 0 1 0 5.0 0a2.5 2.5 0 1 0 -5.0 0M305.8 370.3a2.5 2.5 0 1 0 5.0 0a2.5 2.5 0 1 0 -5.0 0M309.1 369.2a2.5 2.5 0 1 0 5.0 0a2.5 2.5 0 1 0 -5.0 0M306.9 372.5a2.5 2.5 0 1 0 5.0 0a2.5 2.5 0 1 0 -5.0 0M309.7 373.1a2.5 2.5 0 1 0 5.0 0a2.5 2.5 0 1 0 -5.0 0M311.3 374.7a2.5 2.5 0 1 0 5.0 0a2.5 2.5 0 1 0 -5.0 0M312.4 366.0a2.5 2.5 0 1 0 5.0 0a2.5 2.5 0 1 0 -5.0 0M315.7 362.7a2.5 2.5 0 1 0 5.0 0a2.5 2.5 0 1 0 -5.0 0M320.1 364.9a2.5 2.5 0 1 0 5.0 0a2.5 2.5 0 1 0 -5.0 0M320.6 369.2a2.5 2.5 0 1 0 5.0 0a2.5 2.5 0 1 0 -5.0 0M321.2 372.5a2.5 2.5 0 1 0 5.0 0a2.5 2.5 0 1 0 -5.0 0M322.2 375.3a2.5 2.5 0 1 0 5.0 0a2.5 2.5 0 1 0 -5.0 0M323.3 368.1a2.5 2.5 0 1 0 5.0 0a2.5 2.5 0 1 0 -5.0 0M323.9 379.1a2.5 2.5 0 1 0 5.0 0a2.5 2.5 0 1 0 -5.0 0M321.2 378.0a2.5 2.5 0 1 0 5.0 0a2.5 2.5 0 1 0 -5.0 0M317.9 379.1a2.5 2.5 0 1 0 5.0 0a2.5 2.5 0 1 0 -5.0 0M315.7 381.3a2.5 2.5 0 1 0 5.0 0a2.5 2.5 0 1 0 -5.0 0M318.4 382.4a2.5 2.5 0 1 0 5.0 0a2.5 2.5 0 1 0 -5.0 0M317.3 384.6a2.5 2.5 0 1 0 5.0 0a2.5 2.5 0 1 0 -5.0 0M314.6 386.8a2.5 2.5 0 1 0 5.0 0a2.5 2.5 0 1 0 -5.0 0M311.3 386.8a2.5 2.5 0 1 0 5.0 0a2.5 2.5 0 1 0 -5.0 0M319.5 390.0a2.5 2.5 0 1 0 5.0 0a2.5 2.5 0 1 0 -5.0 0M316.2 391.1a2.5 2.5 0 1 0 5.0 0a2.5 2.5 0 1 0 -5.0 0M313.5 392.2a2.5 2.5 0 1 0 5.0 0a2.5 2.5 0 1 0 -5.0 0M310.2 392.2a2.5 2.5 0 1 0 5.0 0a2.5 2.5 0 1 0 -5.0 0M309.1 390.0a2.5 2.5 0 1 0 5.0 0a2.5 2.5 0 1 0 -5.0 0M306.4 383.5a2.5 2.5 0 1 0 5.0 0a2.5 2.5 0 1 0 -5.0 0M303.1 388.4a2.5 2.5 0 1 0 5.0 0a2.5 2.5 0 1 0 -5.0 0M299.3 392.8a2.5 2.5 0 1 0 5.0 0a2.5 2.5 0 1 0 -5.0 0M300.3 395.5a2.5 2.5 0 1 0 5.0 0a2.5 2.5 0 1 0 -5.0 0M305.3 396.1a2.5 2.5 0 1 0 5.0 0a2.5 2.5 0 1 0 -5.0 0M316.8 398.8a2.5 2.5 0 1 0 5.0 0a2.5 2.5 0 1 0 -5.0 0M313.5 404.8a2.5 2.5 0 1 0 5.0 0a2.5 2.5 0 1 0 -5.0 0M268.6 383.5a2.5 2.5 0 1 0 5.0 0a2.5 2.5 0 1 0 -5.0 0M269.1 387.8a2.5 2.5 0 1 0 5.0 0a2.5 2.5 0 1 0 -5.0 0M275.2 384.6a2.5 2.5 0 1 0 5.0 0a2.5 2.5 0 1 0 -5.0 0M275.7 387.3a2.5 2.5 0 1 0 5.0 0a2.5 2.5 0 1 0 -5.0 0M273.5 391.1a2.5 2.5 0 1 0 5.0 0a2.5 2.5 0 1 0 -5.0 0M279.5 392.2a2.5 2.5 0 1 0 5.0 0a2.5 2.5 0 1 0 -5.0 0M272.4 395.5a2.5 2.5 0 1 0 5.0 0a2.5 2.5 0 1 0 -5.0 0M270.8 398.8a2.5 2.5 0 1 0 5.0 0a2.5 2.5 0 1 0 -5.0 0M280.6 388.9a2.5 2.5 0 1 0 5.0 0a2.5 2.5 0 1 0 -5.0 0M285.6 393.9a2.5 2.5 0 1 0 5.0 0a2.5 2.5 0 1 0 -5.0 0M289.4 393.3a2.5 2.5 0 1 0 5.0 0a2.5 2.5 0 1 0 -5.0 0M291.0 396.1a2.5 2.5 0 1 0 5.0 0a2.5 2.5 0 1 0 -5.0 0M288.9 397.2a2.5 2.5 0 1 0 5.0 0a2.5 2.5 0 1 0 -5.0 0M283.9 398.8a2.5 2.5 0 1 0 5.0 0a2.5 2.5 0 1 0 -5.0 0M282.3 401.0a2.5 2.5 0 1 0 5.0 0a2.5 2.5 0 1 0 -5.0 0M286.1 401.0a2.5 2.5 0 1 0 5.0 0a2.5 2.5 0 1 0 -5.0 0M289.4 403.2a2.5 2.5 0 1 0 5.0 0a2.5 2.5 0 1 0 -5.0 0M291.6 402.1a2.5 2.5 0 1 0 5.0 0a2.5 2.5 0 1 0 -5.0 0M293.8 404.3a2.5 2.5 0 1 0 5.0 0a2.5 2.5 0 1 0 -5.0 0M296.0 405.4a2.5 2.5 0 1 0 5.0 0a2.5 2.5 0 1 0 -5.0 0M300.3 401.0a2.5 2.5 0 1 0 5.0 0a2.5 2.5 0 1 0 -5.0 0M302.5 401.0a2.5 2.5 0 1 0 5.0 0a2.5 2.5 0 1 0 -5.0 0M303.6 403.2a2.5 2.5 0 1 0 5.0 0a2.5 2.5 0 1 0 -5.0 0M306.4 402.1a2.5 2.5 0 1 0 5.0 0a2.5 2.5 0 1 0 -5.0 0M306.9 404.3a2.5 2.5 0 1 0 5.0 0a2.5 2.5 0 1 0 -5.0 0M301.4 405.4a2.5 2.5 0 1 0 5.0 0a2.5 2.5 0 1 0 -5.0 0M304.2 406.5a2.5 2.5 0 1 0 5.0 0a2.5 2.5 0 1 0 -5.0 0M306.9 408.7a2.5 2.5 0 1 0 5.0 0a2.5 2.5 0 1 0 -5.0 0M309.7 409.2a2.5 2.5 0 1 0 5.0 0a2.5 2.5 0 1 0 -5.0 0M279.5 405.4a2.5 2.5 0 1 0 5.0 0a2.5 2.5 0 1 0 -5.0 0M281.7 407.6a2.5 2.5 0 1 0 5.0 0a2.5 2.5 0 1 0 -5.0 0M283.9 406.5a2.5 2.5 0 1 0 5.0 0a2.5 2.5 0 1 0 -5.0 0M286.1 407.6a2.5 2.5 0 1 0 5.0 0a2.5 2.5 0 1 0 -5.0 0M274.1 404.3a2.5 2.5 0 1 0 5.0 0a2.5 2.5 0 1 0 -5.0 0M271.9 406.5a2.5 2.5 0 1 0 5.0 0a2.5 2.5 0 1 0 -5.0 0M269.7 408.7a2.5 2.5 0 1 0 5.0 0a2.5 2.5 0 1 0 -5.0 0M274.1 409.7a2.5 2.5 0 1 0 5.0 0a2.5 2.5 0 1 0 -5.0 0M275.7 411.9a2.5 2.5 0 1 0 5.0 0a2.5 2.5 0 1 0 -5.0 0M278.4 410.8a2.5 2.5 0 1 0 5.0 0a2.5 2.5 0 1 0 -5.0 0M287.2 409.7a2.5 2.5 0 1 0 5.0 0a2.5 2.5 0 1 0 -5.0 0M289.4 411.9a2.5 2.5 0 1 0 5.0 0a2.5 2.5 0 1 0 -5.0 0M292.7 410.3a2.5 2.5 0 1 0 5.0 0a2.5 2.5 0 1 0 -5.0 0M294.9 408.7a2.5 2.5 0 1 0 5.0 0a2.5 2.5 0 1 0 -5.0 0M297.1 409.7a2.5 2.5 0 1 0 5.0 0a2.5 2.5 0 1 0 -5.0 0M299.3 411.9a2.5 2.5 0 1 0 5.0 0a2.5 2.5 0 1 0 -5.0 0M303.6 413.0a2.5 2.5 0 1 0 5.0 0a2.5 2.5 0 1 0 -5.0 0M306.9 414.1a2.5 2.5 0 1 0 5.0 0a2.5 2.5 0 1 0 -5.0 0M281.7 413.0a2.5 2.5 0 1 0 5.0 0a2.5 2.5 0 1 0 -5.0 0M285.0 414.1a2.5 2.5 0 1 0 5.0 0a2.5 2.5 0 1 0 -5.0 0M249.1 412.2a2.5 2.5 0 1 0 5.0 0a2.5 2.5 0 1 0 -5.0 0M253.5 411.1a2.5 2.5 0 1 0 5.0 0a2.5 2.5 0 1 0 -5.0 0M260.0 417.1a2.5 2.5 0 1 0 5.0 0a2.5 2.5 0 1 0 -5.0 0M262.8 420.4a2.5 2.5 0 1 0 5.0 0a2.5 2.5 0 1 0 -5.0 0M264.4 413.3a2.5 2.5 0 1 0 5.0 0a2.5 2.5 0 1 0 -5.0 0M266.6 411.1a2.5 2.5 0 1 0 5.0 0a2.5 2.5 0 1 0 -5.0 0M255.6 423.7a2.5 2.5 0 1 0 5.0 0a2.5 2.5 0 1 0 -5.0 0M256.2 427.5a2.5 2.5 0 1 0 5.0 0a2.5 2.5 0 1 0 -5.0 0M253.4 431.4a2.5 2.5 0 1 0 5.0 0a2.5 2.5 0 1 0 -5.0 0M250.7 434.1a2.5 2.5 0 1 0 5.0 0a2.5 2.5 0 1 0 -5.0 0M256.7 430.3a2.5 2.5 0 1 0 5.0 0a2.5 2.5 0 1 0 -5.0 0M261.7 428.1a2.5 2.5 0 1 0 5.0 0a2.5 2.5 0 1 0 -5.0 0M267.1 423.7a2.5 2.5 0 1 0 5.0 0a2.5 2.5 0 1 0 -5.0 0M269.9 424.2a2.5 2.5 0 1 0 5.0 0a2.5 2.5 0 1 0 -5.0 0M263.3 436.3a2.5 2.5 0 1 0 5.0 0a2.5 2.5 0 1 0 -5.0 0M256.2 437.4a2.5 2.5 0 1 0 5.0 0a2.5 2.5 0 1 0 -5.0 0M252.9 440.7a2.5 2.5 0 1 0 5.0 0a2.5 2.5 0 1 0 -5.0 0M274.3 414.9a2.5 2.5 0 1 0 5.0 0a2.5 2.5 0 1 0 -5.0 0M281.4 416.6a2.5 2.5 0 1 0 5.0 0a2.5 2.5 0 1 0 -5.0 0M279.2 419.9a2.5 2.5 0 1 0 5.0 0a2.5 2.5 0 1 0 -5.0 0M284.1 411.1a2.5 2.5 0 1 0 5.0 0a2.5 2.5 0 1 0 -5.0 0M287.4 414.4a2.5 2.5 0 1 0 5.0 0a2.5 2.5 0 1 0 -5.0 0M285.7 428.1a2.5 2.5 0 1 0 5.0 0a2.5 2.5 0 1 0 -5.0 0M292.3 424.2a2.5 2.5 0 1 0 5.0 0a2.5 2.5 0 1 0 -5.0 0M295.1 425.9a2.5 2.5 0 1 0 5.0 0a2.5 2.5 0 1 0 -5.0 0M294.0 415.5a2.5 2.5 0 1 0 5.0 0a2.5 2.5 0 1 0 -5.0 0M296.2 417.7a2.5 2.5 0 1 0 5.0 0a2.5 2.5 0 1 0 -5.0 0M298.3 413.8a2.5 2.5 0 1 0 5.0 0a2.5 2.5 0 1 0 -5.0 0M302.7 416.6a2.5 2.5 0 1 0 5.0 0a2.5 2.5 0 1 0 -5.0 0M303.3 419.9a2.5 2.5 0 1 0 5.0 0a2.5 2.5 0 1 0 -5.0 0M303.8 425.3a2.5 2.5 0 1 0 5.0 0a2.5 2.5 0 1 0 -5.0 0M296.7 431.9a2.5 2.5 0 1 0 5.0 0a2.5 2.5 0 1 0 -5.0 0M284.7 441.2a2.5 2.5 0 1 0 5.0 0a2.5 2.5 0 1 0 -5.0 0M289.0 441.8a2.5 2.5 0 1 0 5.0 0a2.5 2.5 0 1 0 -5.0 0M285.2 450.0a2.5 2.5 0 1 0 5.0 0a2.5 2.5 0 1 0 -5.0 0M261.1 445.0a2.5 2.5 0 1 0 5.0 0a2.5 2.5 0 1 0 -5.0 0M263.9 450.0a2.5 2.5 0 1 0 5.0 0a2.5 2.5 0 1 0 -5.0 0M264.4 452.7a2.5 2.5 0 1 0 5.0 0a2.5 2.5 0 1 0 -5.0 0M269.3 446.1a2.5 2.5 0 1 0 5.0 0a2.5 2.5 0 1 0 -5.0 0M269.3 452.2a2.5 2.5 0 1 0 5.0 0a2.5 2.5 0 1 0 -5.0 0M274.8 449.4a2.5 2.5 0 1 0 5.0 0a2.5 2.5 0 1 0 -5.0 0M259.5 464.2a2.5 2.5 0 1 0 5.0 0a2.5 2.5 0 1 0 -5.0 0M252.9 469.1a2.5 2.5 0 1 0 5.0 0a2.5 2.5 0 1 0 -5.0 0M257.3 469.1a2.5 2.5 0 1 0 5.0 0a2.5 2.5 0 1 0 -5.0 0M308.4 411.8a2.5 2.5 0 1 0 5.0 0a2.5 2.5 0 1 0 -5.0 0M300.9 409.2a2.5 2.5 0 1 0 5.0 0a2.5 2.5 0 1 0 -5.0 0M261.6 371.7a2.5 2.5 0 1 0 5.0 0a2.5 2.5 0 1 0 -5.0 0M265.9 372.0a2.5 2.5 0 1 0 5.0 0a2.5 2.5 0 1 0 -5.0 0M239.9 375.8a2.5 2.5 0 1 0 5.0 0a2.5 2.5 0 1 0 -5.0 0M245.5 375.4a2.5 2.5 0 1 0 5.0 0a2.5 2.5 0 1 0 -5.0 0M249.1 376.1a2.5 2.5 0 1 0 5.0 0a2.5 2.5 0 1 0 -5.0 0M255.0 374.6a2.5 2.5 0 1 0 5.0 0a2.5 2.5 0 1 0 -5.0 0M253.5 379.0a2.5 2.5 0 1 0 5.0 0a2.5 2.5 0 1 0 -5.0 0M249.1 383.4a2.5 2.5 0 1 0 5.0 0a2.5 2.5 0 1 0 -5.0 0M251.3 387.8a2.5 2.5 0 1 0 5.0 0a2.5 2.5 0 1 0 -5.0 0M239.9 388.5a2.5 2.5 0 1 0 5.0 0a2.5 2.5 0 1 0 -5.0 0M257.9 381.9a2.5 2.5 0 1 0 5.0 0a2.5 2.5 0 1 0 -5.0 0M260.1 384.9a2.5 2.5 0 1 0 5.0 0a2.5 2.5 0 1 0 -5.0 0M257.2 387.0a2.5 2.5 0 1 0 5.0 0a2.5 2.5 0 1 0 -5.0 0M260.8 387.8a2.5 2.5 0 1 0 5.0 0a2.5 2.5 0 1 0 -5.0 0M266.7 387.0a2.5 2.5 0 1 0 5.0 0a2.5 2.5 0 1 0 -5.0 0M265.9 390.7a2.5 2.5 0 1 0 5.0 0a2.5 2.5 0 1 0 -5.0 0M254.3 394.3a2.5 2.5 0 1 0 5.0 0a2.5 2.5 0 1 0 -5.0 0M256.4 397.3a2.5 2.5 0 1 0 5.0 0a2.5 2.5 0 1 0 -5.0 0M262.3 393.6a2.5 2.5 0 1 0 5.0 0a2.5 2.5 0 1 0 -5.0 0M264.5 395.1a2.5 2.5 0 1 0 5.0 0a2.5 2.5 0 1 0 -5.0 0M251.3 398.0a2.5 2.5 0 1 0 5.0 0a2.5 2.5 0 1 0 -5.0 0M252.8 401.6a2.5 2.5 0 1 0 5.0 0a2.5 2.5 0 1 0 -5.0 0M260.8 400.9a2.5 2.5 0 1 0 5.0 0a2.5 2.5 0 1 0 -5.0 0M271.8 392.2a2.5 2.5 0 1 0 5.0 0a2.5 2.5 0 1 0 -5.0 0M228.9 388.8a2.5 2.5 0 1 0 5.0 0a2.5 2.5 0 1 0 -5.0 0M258.6 389.6a2.5 2.5 0 1 0 5.0 0a2.5 2.5 0 1 0 -5.0 0M269.1 385.6a2.5 2.5 0 1 0 5.0 0a2.5 2.5 0 1 0 -5.0 0M257.8 400.1a2.5 2.5 0 1 0 5.0 0a2.5 2.5 0 1 0 -5.0 0M255.4 400.9a2.5 2.5 0 1 0 5.0 0a2.5 2.5 0 1 0 -5.0 0M262.7 401.7a2.5 2.5 0 1 0 5.0 0a2.5 2.5 0 1 0 -5.0 0M252.2 405.7a2.5 2.5 0 1 0 5.0 0a2.5 2.5 0 1 0 -5.0 0M254.6 407.3a2.5 2.5 0 1 0 5.0 0a2.5 2.5 0 1 0 -5.0 0M257.0 407.3a2.5 2.5 0 1 0 5.0 0a2.5 2.5 0 1 0 -5.0 0M265.9 407.3a2.5 2.5 0 1 0 5.0 0a2.5 2.5 0 1 0 -5.0 0M267.5 408.9a2.5 2.5 0 1 0 5.0 0a2.5 2.5 0 1 0 -5.0 0M263.5 408.9a2.5 2.5 0 1 0 5.0 0a2.5 2.5 0 1 0 -5.0 0M261.9 410.5a2.5 2.5 0 1 0 5.0 0a2.5 2.5 0 1 0 -5.0 0M261.1 413.7a2.5 2.5 0 1 0 5.0 0a2.5 2.5 0 1 0 -5.0 0M264.3 415.3a2.5 2.5 0 1 0 5.0 0a2.5 2.5 0 1 0 -5.0 0M241.8 417.8a2.5 2.5 0 1 0 5.0 0a2.5 2.5 0 1 0 -5.0 0" fill="#000"/>
<g clip-path="url(#c2)"><line x1="128.6" y1="537.4" x2="342" y2="331.8" stroke="#ff0000" stroke-width="2.9" stroke-dasharray="11.3 13.5" stroke-dashoffset="6.1" stroke-linecap="round"/>
<line x1="143.9" y1="537.4" x2="342" y2="327.6" stroke="#000" stroke-width="3.0"/></g>
<rect x="52.1" y="308.8" width="289.9" height="228.59999999999997" fill="none" stroke="#000" stroke-width="2.0"/>
<line x1="82.0" y1="537.4" x2="82.0" y2="551.6" stroke="#000" stroke-width="1.5"/>
<text x="82.0" y="570.9" text-anchor="middle" font-size="16">-1.0</text>
<line x1="132.3" y1="537.4" x2="132.3" y2="551.6" stroke="#000" stroke-width="1.5"/>
<text x="132.3" y="570.9" text-anchor="middle" font-size="16">-0.8</text>
<line x1="182.6" y1="537.4" x2="182.6" y2="551.6" stroke="#000" stroke-width="1.5"/>
<text x="182.6" y="570.9" text-anchor="middle" font-size="16">-0.6</text>
<line x1="232.9" y1="537.4" x2="232.9" y2="551.6" stroke="#000" stroke-width="1.5"/>
<text x="232.9" y="570.9" text-anchor="middle" font-size="16">-0.4</text>
<line x1="283.2" y1="537.4" x2="283.2" y2="551.6" stroke="#000" stroke-width="1.5"/>
<text x="283.2" y="570.9" text-anchor="middle" font-size="16">-0.2</text>
<line x1="333.5" y1="537.4" x2="333.5" y2="551.6" stroke="#000" stroke-width="1.5"/>
<text x="333.5" y="570.9" text-anchor="middle" font-size="16">0.0</text>
<line x1="38.900000000000006" y1="339.4" x2="52.1" y2="339.4" stroke="#000" stroke-width="1.5"/>
<line x1="38.900000000000006" y1="388.1" x2="52.1" y2="388.1" stroke="#000" stroke-width="1.5"/>
<line x1="38.900000000000006" y1="436.8" x2="52.1" y2="436.8" stroke="#000" stroke-width="1.5"/>
<line x1="38.900000000000006" y1="485.5" x2="52.1" y2="485.5" stroke="#000" stroke-width="1.5"/>
<line x1="38.900000000000006" y1="534.2" x2="52.1" y2="534.2" stroke="#000" stroke-width="1.5"/>
<text transform="translate(35.2,339.4) rotate(-90)" x="0" y="0" text-anchor="middle" font-size="16">0.0</text>
<text transform="translate(35.2,388.1) rotate(-90)" x="0" y="0" text-anchor="middle" font-size="16">-0.2</text>
<text transform="translate(35.2,436.8) rotate(-90)" x="0" y="0" text-anchor="middle" font-size="16">-0.4</text>
<text transform="translate(35.2,485.5) rotate(-90)" x="0" y="0" text-anchor="middle" font-size="16">-0.6</text>
<text transform="translate(35.2,534.2) rotate(-90)" x="0" y="0" text-anchor="middle" font-size="16">-0.8</text>
<text x="64.8" y="329.3" font-size="12.9">response ~ VPD + SWC</text>
<text x="64.6" y="354.6" font-size="12.9" fill="#111">R</text>
<text x="73.8" y="348.2" font-size="9.3" fill="#111">2</text>
<path d="M82.4 350.5H89.2M82.4 352.6H89.2" stroke="#444" stroke-width="0.95" fill="none"/>
<text x="92.2" y="354.6" font-size="12.9" fill="#111">0.66</text>
<clipPath id="c3"><rect x="392.5" y="308.8" width="290.29999999999995" height="228.3"/></clipPath>
<path d="M400.8 524.2a2.5 2.5 0 1 0 5.0 0a2.5 2.5 0 1 0 -5.0 0M402.8 528.7a2.5 2.5 0 1 0 5.0 0a2.5 2.5 0 1 0 -5.0 0M414.4 467.0a2.5 2.5 0 1 0 5.0 0a2.5 2.5 0 1 0 -5.0 0M415.4 490.4a2.5 2.5 0 1 0 5.0 0a2.5 2.5 0 1 0 -5.0 0M423.4 509.9a2.5 2.5 0 1 0 5.0 0a2.5 2.5 0 1 0 -5.0 0M431.1 506.9a2.5 2.5 0 1 0 5.0 0a2.5 2.5 0 1 0 -5.0 0M435.0 469.6a2.5 2.5 0 1 0 5.0 0a2.5 2.5 0 1 0 -5.0 0M435.0 479.4a2.5 2.5 0 1 0 5.0 0a2.5 2.5 0 1 0 -5.0 0M441.2 476.4a2.5 2.5 0 1 0 5.0 0a2.5 2.5 0 1 0 -5.0 0M440.8 478.4a2.5 2.5 0 1 0 5.0 0a2.5 2.5 0 1 0 -5.0 0M433.5 491.0a2.5 2.5 0 1 0 5.0 0a2.5 2.5 0 1 0 -5.0 0M441.5 485.7a2.5 2.5 0 1 0 5.0 0a2.5 2.5 0 1 0 -5.0 0M442.0 488.5a2.5 2.5 0 1 0 5.0 0a2.5 2.5 0 1 0 -5.0 0M453.3 470.7a2.5 2.5 0 1 0 5.0 0a2.5 2.5 0 1 0 -5.0 0M454.4 480.5a2.5 2.5 0 1 0 5.0 0a2.5 2.5 0 1 0 -5.0 0M462.2 461.0a2.5 2.5 0 1 0 5.0 0a2.5 2.5 0 1 0 -5.0 0M469.1 452.6a2.5 2.5 0 1 0 5.0 0a2.5 2.5 0 1 0 -5.0 0M470.2 459.4a2.5 2.5 0 1 0 5.0 0a2.5 2.5 0 1 0 -5.0 0M470.5 461.6a2.5 2.5 0 1 0 5.0 0a2.5 2.5 0 1 0 -5.0 0M484.2 464.0a2.5 2.5 0 1 0 5.0 0a2.5 2.5 0 1 0 -5.0 0M477.3 483.9a2.5 2.5 0 1 0 5.0 0a2.5 2.5 0 1 0 -5.0 0M484.2 499.8a2.5 2.5 0 1 0 5.0 0a2.5 2.5 0 1 0 -5.0 0M478.5 415.2a2.5 2.5 0 1 0 5.0 0a2.5 2.5 0 1 0 -5.0 0M486.8 422.0a2.5 2.5 0 1 0 5.0 0a2.5 2.5 0 1 0 -5.0 0M485.7 429.1a2.5 2.5 0 1 0 5.0 0a2.5 2.5 0 1 0 -5.0 0M478.5 436.6a2.5 2.5 0 1 0 5.0 0a2.5 2.5 0 1 0 -5.0 0M488.3 439.2a2.5 2.5 0 1 0 5.0 0a2.5 2.5 0 1 0 -5.0 0M488.7 441.9a2.5 2.5 0 1 0 5.0 0a2.5 2.5 0 1 0 -5.0 0M492.7 424.3a2.5 2.5 0 1 0 5.0 0a2.5 2.5 0 1 0 -5.0 0M501.3 430.6a2.5 2.5 0 1 0 5.0 0a2.5 2.5 0 1 0 -5.0 0M502.8 434.7a2.5 2.5 0 1 0 5.0 0a2.5 2.5 0 1 0 -5.0 0M507.4 419.0a2.5 2.5 0 1 0 5.0 0a2.5 2.5 0 1 0 -5.0 0M509.9 417.8a2.5 2.5 0 1 0 5.0 0a2.5 2.5 0 1 0 -5.0 0M506.6 449.8a2.5 2.5 0 1 0 5.0 0a2.5 2.5 0 1 0 -5.0 0M519.9 435.6a2.5 2.5 0 1 0 5.0 0a2.5 2.5 0 1 0 -5.0 0M519.4 448.0a2.5 2.5 0 1 0 5.0 0a2.5 2.5 0 1 0 -5.0 0M524.0 398.5a2.5 2.5 0 1 0 5.0 0a2.5 2.5 0 1 0 -5.0 0M531.5 404.2a2.5 2.5 0 1 0 5.0 0a2.5 2.5 0 1 0 -5.0 0M528.0 417.5a2.5 2.5 0 1 0 5.0 0a2.5 2.5 0 1 0 -5.0 0M533.5 437.7a2.5 2.5 0 1 0 5.0 0a2.5 2.5 0 1 0 -5.0 0M536.0 412.5a2.5 2.5 0 1 0 5.0 0a2.5 2.5 0 1 0 -5.0 0M541.3 409.0a2.5 2.5 0 1 0 5.0 0a2.5 2.5 0 1 0 -5.0 0M544.6 409.5a2.5 2.5 0 1 0 5.0 0a2.5 2.5 0 1 0 -5.0 0M541.6 413.6a2.5 2.5 0 1 0 5.0 0a2.5 2.5 0 1 0 -5.0 0M538.3 390.6a2.5 2.5 0 1 0 5.0 0a2.5 2.5 0 1 0 -5.0 0M542.1 386.1a2.5 2.5 0 1 0 5.0 0a2.5 2.5 0 1 0 -5.0 0M541.3 390.9a2.5 2.5 0 1 0 5.0 0a2.5 2.5 0 1 0 -5.0 0M546.3 395.2a2.5 2.5 0 1 0 5.0 0a2.5 2.5 0 1 0 -5.0 0M548.1 400.9a2.5 2.5 0 1 0 5.0 0a2.5 2.5 0 1 0 -5.0 0M548.1 405.0a2.5 2.5 0 1 0 5.0 0a2.5 2.5 0 1 0 -5.0 0M552.6 381.9a2.5 2.5 0 1 0 5.0 0a2.5 2.5 0 1 0 -5.0 0M553.1 385.4a2.5 2.5 0 1 0 5.0 0a2.5 2.5 0 1 0 -5.0 0M554.9 401.5a2.5 2.5 0 1 0 5.0 0a2.5 2.5 0 1 0 -5.0 0M555.6 405.0a2.5 2.5 0 1 0 5.0 0a2.5 2.5 0 1 0 -5.0 0M552.6 405.0a2.5 2.5 0 1 0 5.0 0a2.5 2.5 0 1 0 -5.0 0M542.1 428.3a2.5 2.5 0 1 0 5.0 0a2.5 2.5 0 1 0 -5.0 0M544.0 426.1a2.5 2.5 0 1 0 5.0 0a2.5 2.5 0 1 0 -5.0 0M555.2 422.3a2.5 2.5 0 1 0 5.0 0a2.5 2.5 0 1 0 -5.0 0M562.1 416.3a2.5 2.5 0 1 0 5.0 0a2.5 2.5 0 1 0 -5.0 0M562.4 427.6a2.5 2.5 0 1 0 5.0 0a2.5 2.5 0 1 0 -5.0 0M566.9 432.9a2.5 2.5 0 1 0 5.0 0a2.5 2.5 0 1 0 -5.0 0M562.4 400.0a2.5 2.5 0 1 0 5.0 0a2.5 2.5 0 1 0 -5.0 0M564.7 395.9a2.5 2.5 0 1 0 5.0 0a2.5 2.5 0 1 0 -5.0 0M566.6 386.4a2.5 2.5 0 1 0 5.0 0a2.5 2.5 0 1 0 -5.0 0M565.1 376.8a2.5 2.5 0 1 0 5.0 0a2.5 2.5 0 1 0 -5.0 0M568.5 374.8a2.5 2.5 0 1 0 5.0 0a2.5 2.5 0 1 0 -5.0 0M573.7 377.8a2.5 2.5 0 1 0 5.0 0a2.5 2.5 0 1 0 -5.0 0M569.7 403.9a2.5 2.5 0 1 0 5.0 0a2.5 2.5 0 1 0 -5.0 0M571.5 392.9a2.5 2.5 0 1 0 5.0 0a2.5 2.5 0 1 0 -5.0 0M574.5 391.4a2.5 2.5 0 1 0 5.0 0a2.5 2.5 0 1 0 -5.0 0M575.7 396.7a2.5 2.5 0 1 0 5.0 0a2.5 2.5 0 1 0 -5.0 0M577.8 389.1a2.5 2.5 0 1 0 5.0 0a2.5 2.5 0 1 0 -5.0 0M580.5 387.6a2.5 2.5 0 1 0 5.0 0a2.5 2.5 0 1 0 -5.0 0M583.8 387.6a2.5 2.5 0 1 0 5.0 0a2.5 2.5 0 1 0 -5.0 0M579.8 370.3a2.5 2.5 0 1 0 5.0 0a2.5 2.5 0 1 0 -5.0 0M582.0 371.8a2.5 2.5 0 1 0 5.0 0a2.5 2.5 0 1 0 -5.0 0M580.5 379.3a2.5 2.5 0 1 0 5.0 0a2.5 2.5 0 1 0 -5.0 0M579.0 365.8a2.5 2.5 0 1 0 5.0 0a2.5 2.5 0 1 0 -5.0 0M579.8 400.4a2.5 2.5 0 1 0 5.0 0a2.5 2.5 0 1 0 -5.0 0M584.3 402.0a2.5 2.5 0 1 0 5.0 0a2.5 2.5 0 1 0 -5.0 0M577.5 409.0a2.5 2.5 0 1 0 5.0 0a2.5 2.5 0 1 0 -5.0 0M574.2 413.3a2.5 2.5 0 1 0 5.0 0a2.5 2.5 0 1 0 -5.0 0M579.0 424.1a2.5 2.5 0 1 0 5.0 0a2.5 2.5 0 1 0 -5.0 0M584.3 425.0a2.5 2.5 0 1 0 5.0 0a2.5 2.5 0 1 0 -5.0 0M563.6 449.2a2.5 2.5 0 1 0 5.0 0a2.5 2.5 0 1 0 -5.0 0M570.0 452.2a2.5 2.5 0 1 0 5.0 0a2.5 2.5 0 1 0 -5.0 0M576.8 449.5a2.5 2.5 0 1 0 5.0 0a2.5 2.5 0 1 0 -5.0 0M599.8 450.2a2.5 2.5 0 1 0 5.0 0a2.5 2.5 0 1 0 -5.0 0M597.6 454.0a2.5 2.5 0 1 0 5.0 0a2.5 2.5 0 1 0 -5.0 0M602.1 429.6a2.5 2.5 0 1 0 5.0 0a2.5 2.5 0 1 0 -5.0 0M604.4 434.4a2.5 2.5 0 1 0 5.0 0a2.5 2.5 0 1 0 -5.0 0M604.8 438.6a2.5 2.5 0 1 0 5.0 0a2.5 2.5 0 1 0 -5.0 0M610.0 430.9a2.5 2.5 0 1 0 5.0 0a2.5 2.5 0 1 0 -5.0 0M609.6 437.1a2.5 2.5 0 1 0 5.0 0a2.5 2.5 0 1 0 -5.0 0M614.9 432.6a2.5 2.5 0 1 0 5.0 0a2.5 2.5 0 1 0 -5.0 0M614.2 435.9a2.5 2.5 0 1 0 5.0 0a2.5 2.5 0 1 0 -5.0 0M625.5 434.1a2.5 2.5 0 1 0 5.0 0a2.5 2.5 0 1 0 -5.0 0M624.7 425.3a2.5 2.5 0 1 0 5.0 0a2.5 2.5 0 1 0 -5.0 0M629.3 426.8a2.5 2.5 0 1 0 5.0 0a2.5 2.5 0 1 0 -5.0 0M604.4 420.8a2.5 2.5 0 1 0 5.0 0a2.5 2.5 0 1 0 -5.0 0M592.3 418.5a2.5 2.5 0 1 0 5.0 0a2.5 2.5 0 1 0 -5.0 0M591.5 420.8a2.5 2.5 0 1 0 5.0 0a2.5 2.5 0 1 0 -5.0 0M596.1 422.3a2.5 2.5 0 1 0 5.0 0a2.5 2.5 0 1 0 -5.0 0M596.8 415.5a2.5 2.5 0 1 0 5.0 0a2.5 2.5 0 1 0 -5.0 0M626.5 413.0a2.5 2.5 0 1 0 5.0 0a2.5 2.5 0 1 0 -5.0 0M637.1 417.0a2.5 2.5 0 1 0 5.0 0a2.5 2.5 0 1 0 -5.0 0M633.0 408.0a2.5 2.5 0 1 0 5.0 0a2.5 2.5 0 1 0 -5.0 0M636.0 409.5a2.5 2.5 0 1 0 5.0 0a2.5 2.5 0 1 0 -5.0 0M643.6 409.5a2.5 2.5 0 1 0 5.0 0a2.5 2.5 0 1 0 -5.0 0M644.3 405.0a2.5 2.5 0 1 0 5.0 0a2.5 2.5 0 1 0 -5.0 0M602.1 411.0a2.5 2.5 0 1 0 5.0 0a2.5 2.5 0 1 0 -5.0 0M606.6 408.7a2.5 2.5 0 1 0 5.0 0a2.5 2.5 0 1 0 -5.0 0M610.4 407.2a2.5 2.5 0 1 0 5.0 0a2.5 2.5 0 1 0 -5.0 0M595.3 409.5a2.5 2.5 0 1 0 5.0 0a2.5 2.5 0 1 0 -5.0 0M619.5 405.0a2.5 2.5 0 1 0 5.0 0a2.5 2.5 0 1 0 -5.0 0M621.7 402.0a2.5 2.5 0 1 0 5.0 0a2.5 2.5 0 1 0 -5.0 0M657.2 384.6a2.5 2.5 0 1 0 5.0 0a2.5 2.5 0 1 0 -5.0 0M642.8 350.6a2.5 2.5 0 1 0 5.0 0a2.5 2.5 0 1 0 -5.0 0M661.2 350.6a2.5 2.5 0 1 0 5.0 0a2.5 2.5 0 1 0 -5.0 0M664.0 351.5a2.5 2.5 0 1 0 5.0 0a2.5 2.5 0 1 0 -5.0 0M667.7 349.6a2.5 2.5 0 1 0 5.0 0a2.5 2.5 0 1 0 -5.0 0M668.6 353.3a2.5 2.5 0 1 0 5.0 0a2.5 2.5 0 1 0 -5.0 0M644.6 354.2a2.5 2.5 0 1 0 5.0 0a2.5 2.5 0 1 0 -5.0 0M647.4 352.4a2.5 2.5 0 1 0 5.0 0a2.5 2.5 0 1 0 -5.0 0M650.1 353.3a2.5 2.5 0 1 0 5.0 0a2.5 2.5 0 1 0 -5.0 0M652.9 351.5a2.5 2.5 0 1 0 5.0 0a2.5 2.5 0 1 0 -5.0 0M643.7 357.0a2.5 2.5 0 1 0 5.0 0a2.5 2.5 0 1 0 -5.0 0M646.5 357.9a2.5 2.5 0 1 0 5.0 0a2.5 2.5 0 1 0 -5.0 0M650.1 357.9a2.5 2.5 0 1 0 5.0 0a2.5 2.5 0 1 0 -5.0 0M652.9 357.0a2.5 2.5 0 1 0 5.0 0a2.5 2.5 0 1 0 -5.0 0M655.7 355.2a2.5 2.5 0 1 0 5.0 0a2.5 2.5 0 1 0 -5.0 0M658.4 356.1a2.5 2.5 0 1 0 5.0 0a2.5 2.5 0 1 0 -5.0 0M659.4 359.8a2.5 2.5 0 1 0 5.0 0a2.5 2.5 0 1 0 -5.0 0M662.1 360.7a2.5 2.5 0 1 0 5.0 0a2.5 2.5 0 1 0 -5.0 0M664.9 361.6a2.5 2.5 0 1 0 5.0 0a2.5 2.5 0 1 0 -5.0 0M663.1 363.5a2.5 2.5 0 1 0 5.0 0a2.5 2.5 0 1 0 -5.0 0M652.0 361.6a2.5 2.5 0 1 0 5.0 0a2.5 2.5 0 1 0 -5.0 0M654.8 363.5a2.5 2.5 0 1 0 5.0 0a2.5 2.5 0 1 0 -5.0 0M643.7 361.6a2.5 2.5 0 1 0 5.0 0a2.5 2.5 0 1 0 -5.0 0M646.5 363.5a2.5 2.5 0 1 0 5.0 0a2.5 2.5 0 1 0 -5.0 0M627.1 339.5a2.5 2.5 0 1 0 5.0 0a2.5 2.5 0 1 0 -5.0 0M629.9 338.6a2.5 2.5 0 1 0 5.0 0a2.5 2.5 0 1 0 -5.0 0M632.6 337.6a2.5 2.5 0 1 0 5.0 0a2.5 2.5 0 1 0 -5.0 0M635.4 337.6a2.5 2.5 0 1 0 5.0 0a2.5 2.5 0 1 0 -5.0 0M629.0 340.4a2.5 2.5 0 1 0 5.0 0a2.5 2.5 0 1 0 -5.0 0M637.2 344.1a2.5 2.5 0 1 0 5.0 0a2.5 2.5 0 1 0 -5.0 0M630.3 347.3a2.5 2.5 0 1 0 5.0 0a2.5 2.5 0 1 0 -5.0 0M634.5 350.6a2.5 2.5 0 1 0 5.0 0a2.5 2.5 0 1 0 -5.0 0M635.4 352.4a2.5 2.5 0 1 0 5.0 0a2.5 2.5 0 1 0 -5.0 0M633.6 353.3a2.5 2.5 0 1 0 5.0 0a2.5 2.5 0 1 0 -5.0 0M629.0 355.2a2.5 2.5 0 1 0 5.0 0a2.5 2.5 0 1 0 -5.0 0M624.3 357.0a2.5 2.5 0 1 0 5.0 0a2.5 2.5 0 1 0 -5.0 0M623.4 359.8a2.5 2.5 0 1 0 5.0 0a2.5 2.5 0 1 0 -5.0 0M631.7 359.8a2.5 2.5 0 1 0 5.0 0a2.5 2.5 0 1 0 -5.0 0M623.0 348.7a2.5 2.5 0 1 0 5.0 0a2.5 2.5 0 1 0 -5.0 0M623.4 352.4a2.5 2.5 0 1 0 5.0 0a2.5 2.5 0 1 0 -5.0 0M660.3 317.0a2.5 2.5 0 1 0 5.0 0a2.5 2.5 0 1 0 -5.0 0M662.3 320.1a2.5 2.5 0 1 0 5.0 0a2.5 2.5 0 1 0 -5.0 0M668.3 321.1a2.5 2.5 0 1 0 5.0 0a2.5 2.5 0 1 0 -5.0 0M670.3 323.1a2.5 2.5 0 1 0 5.0 0a2.5 2.5 0 1 0 -5.0 0M659.6 323.1a2.5 2.5 0 1 0 5.0 0a2.5 2.5 0 1 0 -5.0 0M656.6 325.1a2.5 2.5 0 1 0 5.0 0a2.5 2.5 0 1 0 -5.0 0M661.0 325.4a2.5 2.5 0 1 0 5.0 0a2.5 2.5 0 1 0 -5.0 0M665.0 326.8a2.5 2.5 0 1 0 5.0 0a2.5 2.5 0 1 0 -5.0 0M665.6 328.8a2.5 2.5 0 1 0 5.0 0a2.5 2.5 0 1 0 -5.0 0M663.3 330.1a2.5 2.5 0 1 0 5.0 0a2.5 2.5 0 1 0 -5.0 0M656.9 330.1a2.5 2.5 0 1 0 5.0 0a2.5 2.5 0 1 0 -5.0 0M657.6 332.1a2.5 2.5 0 1 0 5.0 0a2.5 2.5 0 1 0 -5.0 0M652.9 334.1a2.5 2.5 0 1 0 5.0 0a2.5 2.5 0 1 0 -5.0 0M650.9 335.5a2.5 2.5 0 1 0 5.0 0a2.5 2.5 0 1 0 -5.0 0M649.6 338.1a2.5 2.5 0 1 0 5.0 0a2.5 2.5 0 1 0 -5.0 0M646.2 336.1a2.5 2.5 0 1 0 5.0 0a2.5 2.5 0 1 0 -5.0 0M644.2 338.1a2.5 2.5 0 1 0 5.0 0a2.5 2.5 0 1 0 -5.0 0M642.9 340.8a2.5 2.5 0 1 0 5.0 0a2.5 2.5 0 1 0 -5.0 0M641.5 342.8a2.5 2.5 0 1 0 5.0 0a2.5 2.5 0 1 0 -5.0 0M647.5 339.5a2.5 2.5 0 1 0 5.0 0a2.5 2.5 0 1 0 -5.0 0M648.9 341.5a2.5 2.5 0 1 0 5.0 0a2.5 2.5 0 1 0 -5.0 0M650.9 340.8a2.5 2.5 0 1 0 5.0 0a2.5 2.5 0 1 0 -5.0 0M653.6 338.1a2.5 2.5 0 1 0 5.0 0a2.5 2.5 0 1 0 -5.0 0M654.9 340.1a2.5 2.5 0 1 0 5.0 0a2.5 2.5 0 1 0 -5.0 0M658.9 336.8a2.5 2.5 0 1 0 5.0 0a2.5 2.5 0 1 0 -5.0 0M662.3 337.5a2.5 2.5 0 1 0 5.0 0a2.5 2.5 0 1 0 -5.0 0M657.6 340.1a2.5 2.5 0 1 0 5.0 0a2.5 2.5 0 1 0 -5.0 0M659.6 341.5a2.5 2.5 0 1 0 5.0 0a2.5 2.5 0 1 0 -5.0 0M661.6 340.8a2.5 2.5 0 1 0 5.0 0a2.5 2.5 0 1 0 -5.0 0M663.6 340.1a2.5 2.5 0 1 0 5.0 0a2.5 2.5 0 1 0 -5.0 0M664.3 338.1a2.5 2.5 0 1 0 5.0 0a2.5 2.5 0 1 0 -5.0 0M654.9 343.5a2.5 2.5 0 1 0 5.0 0a2.5 2.5 0 1 0 -5.0 0M657.6 344.2a2.5 2.5 0 1 0 5.0 0a2.5 2.5 0 1 0 -5.0 0M659.6 344.8a2.5 2.5 0 1 0 5.0 0a2.5 2.5 0 1 0 -5.0 0M663.6 343.5a2.5 2.5 0 1 0 5.0 0a2.5 2.5 0 1 0 -5.0 0M644.9 347.5a2.5 2.5 0 1 0 5.0 0a2.5 2.5 0 1 0 -5.0 0M648.9 345.5a2.5 2.5 0 1 0 5.0 0a2.5 2.5 0 1 0 -5.0 0M650.9 347.5a2.5 2.5 0 1 0 5.0 0a2.5 2.5 0 1 0 -5.0 0M652.9 346.2a2.5 2.5 0 1 0 5.0 0a2.5 2.5 0 1 0 -5.0 0M658.9 347.5a2.5 2.5 0 1 0 5.0 0a2.5 2.5 0 1 0 -5.0 0M664.3 348.2a2.5 2.5 0 1 0 5.0 0a2.5 2.5 0 1 0 -5.0 0M669.0 347.5a2.5 2.5 0 1 0 5.0 0a2.5 2.5 0 1 0 -5.0 0M656.9 348.2a2.5 2.5 0 1 0 5.0 0a2.5 2.5 0 1 0 -5.0 0M615.4 340.7a2.5 2.5 0 1 0 5.0 0a2.5 2.5 0 1 0 -5.0 0M621.4 351.8a2.5 2.5 0 1 0 5.0 0a2.5 2.5 0 1 0 -5.0 0M610.8 351.3a2.5 2.5 0 1 0 5.0 0a2.5 2.5 0 1 0 -5.0 0M615.0 352.1a2.5 2.5 0 1 0 5.0 0a2.5 2.5 0 1 0 -5.0 0M609.4 356.4a2.5 2.5 0 1 0 5.0 0a2.5 2.5 0 1 0 -5.0 0M602.1 360.6a2.5 2.5 0 1 0 5.0 0a2.5 2.5 0 1 0 -5.0 0M605.3 360.6a2.5 2.5 0 1 0 5.0 0a2.5 2.5 0 1 0 -5.0 0M608.1 359.6a2.5 2.5 0 1 0 5.0 0a2.5 2.5 0 1 0 -5.0 0M612.7 360.6a2.5 2.5 0 1 0 5.0 0a2.5 2.5 0 1 0 -5.0 0M615.9 359.6a2.5 2.5 0 1 0 5.0 0a2.5 2.5 0 1 0 -5.0 0M612.7 363.3a2.5 2.5 0 1 0 5.0 0a2.5 2.5 0 1 0 -5.0 0M622.8 362.4a2.5 2.5 0 1 0 5.0 0a2.5 2.5 0 1 0 -5.0 0M624.2 365.2a2.5 2.5 0 1 0 5.0 0a2.5 2.5 0 1 0 -5.0 0M580.4 364.1a2.5 2.5 0 1 0 5.0 0a2.5 2.5 0 1 0 -5.0 0M585.9 362.4a2.5 2.5 0 1 0 5.0 0a2.5 2.5 0 1 0 -5.0 0M589.6 363.8a2.5 2.5 0 1 0 5.0 0a2.5 2.5 0 1 0 -5.0 0M594.7 363.1a2.5 2.5 0 1 0 5.0 0a2.5 2.5 0 1 0 -5.0 0M593.8 366.1a2.5 2.5 0 1 0 5.0 0a2.5 2.5 0 1 0 -5.0 0M587.8 367.9a2.5 2.5 0 1 0 5.0 0a2.5 2.5 0 1 0 -5.0 0M590.5 369.8a2.5 2.5 0 1 0 5.0 0a2.5 2.5 0 1 0 -5.0 0M597.9 367.9a2.5 2.5 0 1 0 5.0 0a2.5 2.5 0 1 0 -5.0 0M600.2 370.2a2.5 2.5 0 1 0 5.0 0a2.5 2.5 0 1 0 -5.0 0M609.4 368.8a2.5 2.5 0 1 0 5.0 0a2.5 2.5 0 1 0 -5.0 0M608.1 371.6a2.5 2.5 0 1 0 5.0 0a2.5 2.5 0 1 0 -5.0 0M615.4 370.7a2.5 2.5 0 1 0 5.0 0a2.5 2.5 0 1 0 -5.0 0M615.9 373.0a2.5 2.5 0 1 0 5.0 0a2.5 2.5 0 1 0 -5.0 0M624.6 371.6a2.5 2.5 0 1 0 5.0 0a2.5 2.5 0 1 0 -5.0 0M622.8 373.5a2.5 2.5 0 1 0 5.0 0a2.5 2.5 0 1 0 -5.0 0M580.3 374.0a2.5 2.5 0 1 0 5.0 0a2.5 2.5 0 1 0 -5.0 0M591.9 373.5a2.5 2.5 0 1 0 5.0 0a2.5 2.5 0 1 0 -5.0 0M598.3 374.0a2.5 2.5 0 1 0 5.0 0a2.5 2.5 0 1 0 -5.0 0M596.5 377.7a2.5 2.5 0 1 0 5.0 0a2.5 2.5 0 1 0 -5.0 0M608.4 374.0a2.5 2.5 0 1 0 5.0 0a2.5 2.5 0 1 0 -5.0 0M606.6 376.7a2.5 2.5 0 1 0 5.0 0a2.5 2.5 0 1 0 -5.0 0M614.0 375.8a2.5 2.5 0 1 0 5.0 0a2.5 2.5 0 1 0 -5.0 0M626.0 367.5a2.5 2.5 0 1 0 5.0 0a2.5 2.5 0 1 0 -5.0 0M579.9 381.4a2.5 2.5 0 1 0 5.0 0a2.5 2.5 0 1 0 -5.0 0M588.2 377.7a2.5 2.5 0 1 0 5.0 0a2.5 2.5 0 1 0 -5.0 0M590.9 380.4a2.5 2.5 0 1 0 5.0 0a2.5 2.5 0 1 0 -5.0 0M593.7 377.7a2.5 2.5 0 1 0 5.0 0a2.5 2.5 0 1 0 -5.0 0M595.5 379.5a2.5 2.5 0 1 0 5.0 0a2.5 2.5 0 1 0 -5.0 0M602.0 378.1a2.5 2.5 0 1 0 5.0 0a2.5 2.5 0 1 0 -5.0 0M603.4 382.3a2.5 2.5 0 1 0 5.0 0a2.5 2.5 0 1 0 -5.0 0M605.2 381.4a2.5 2.5 0 1 0 5.0 0a2.5 2.5 0 1 0 -5.0 0M597.8 383.2a2.5 2.5 0 1 0 5.0 0a2.5 2.5 0 1 0 -5.0 0M597.4 386.0a2.5 2.5 0 1 0 5.0 0a2.5 2.5 0 1 0 -5.0 0M592.3 386.4a2.5 2.5 0 1 0 5.0 0a2.5 2.5 0 1 0 -5.0 0M591.4 388.7a2.5 2.5 0 1 0 5.0 0a2.5 2.5 0 1 0 -5.0 0M589.6 391.5a2.5 2.5 0 1 0 5.0 0a2.5 2.5 0 1 0 -5.0 0M573.9 393.8a2.5 2.5 0 1 0 5.0 0a2.5 2.5 0 1 0 -5.0 0M610.3 383.2a2.5 2.5 0 1 0 5.0 0a2.5 2.5 0 1 0 -5.0 0M612.1 381.4a2.5 2.5 0 1 0 5.0 0a2.5 2.5 0 1 0 -5.0 0M617.7 377.2a2.5 2.5 0 1 0 5.0 0a2.5 2.5 0 1 0 -5.0 0M626.0 379.5a2.5 2.5 0 1 0 5.0 0a2.5 2.5 0 1 0 -5.0 0M628.7 380.4a2.5 2.5 0 1 0 5.0 0a2.5 2.5 0 1 0 -5.0 0M630.6 383.2a2.5 2.5 0 1 0 5.0 0a2.5 2.5 0 1 0 -5.0 0M624.1 383.2a2.5 2.5 0 1 0 5.0 0a2.5 2.5 0 1 0 -5.0 0M626.9 385.0a2.5 2.5 0 1 0 5.0 0a2.5 2.5 0 1 0 -5.0 0M629.6 386.0a2.5 2.5 0 1 0 5.0 0a2.5 2.5 0 1 0 -5.0 0M623.2 386.9a2.5 2.5 0 1 0 5.0 0a2.5 2.5 0 1 0 -5.0 0M596.5 393.3a2.5 2.5 0 1 0 5.0 0a2.5 2.5 0 1 0 -5.0 0M594.6 395.2a2.5 2.5 0 1 0 5.0 0a2.5 2.5 0 1 0 -5.0 0M592.8 397.0a2.5 2.5 0 1 0 5.0 0a2.5 2.5 0 1 0 -5.0 0M602.0 394.3a2.5 2.5 0 1 0 5.0 0a2.5 2.5 0 1 0 -5.0 0M603.8 391.5a2.5 2.5 0 1 0 5.0 0a2.5 2.5 0 1 0 -5.0 0M605.7 397.0a2.5 2.5 0 1 0 5.0 0a2.5 2.5 0 1 0 -5.0 0M607.5 398.9a2.5 2.5 0 1 0 5.0 0a2.5 2.5 0 1 0 -5.0 0M611.2 391.5a2.5 2.5 0 1 0 5.0 0a2.5 2.5 0 1 0 -5.0 0M616.7 391.5a2.5 2.5 0 1 0 5.0 0a2.5 2.5 0 1 0 -5.0 0M619.5 392.4a2.5 2.5 0 1 0 5.0 0a2.5 2.5 0 1 0 -5.0 0M622.3 390.6a2.5 2.5 0 1 0 5.0 0a2.5 2.5 0 1 0 -5.0 0M625.0 392.4a2.5 2.5 0 1 0 5.0 0a2.5 2.5 0 1 0 -5.0 0M627.8 392.4a2.5 2.5 0 1 0 5.0 0a2.5 2.5 0 1 0 -5.0 0M615.8 395.2a2.5 2.5 0 1 0 5.0 0a2.5 2.5 0 1 0 -5.0 0M618.6 395.2a2.5 2.5 0 1 0 5.0 0a2.5 2.5 0 1 0 -5.0 0M621.3 394.3a2.5 2.5 0 1 0 5.0 0a2.5 2.5 0 1 0 -5.0 0M624.1 396.1a2.5 2.5 0 1 0 5.0 0a2.5 2.5 0 1 0 -5.0 0M626.9 396.1a2.5 2.5 0 1 0 5.0 0a2.5 2.5 0 1 0 -5.0 0M614.9 398.9a2.5 2.5 0 1 0 5.0 0a2.5 2.5 0 1 0 -5.0 0M618.6 399.8a2.5 2.5 0 1 0 5.0 0a2.5 2.5 0 1 0 -5.0 0M621.3 398.9a2.5 2.5 0 1 0 5.0 0a2.5 2.5 0 1 0 -5.0 0M627.8 399.8a2.5 2.5 0 1 0 5.0 0a2.5 2.5 0 1 0 -5.0 0M630.6 398.9a2.5 2.5 0 1 0 5.0 0a2.5 2.5 0 1 0 -5.0 0M586.3 401.6a2.5 2.5 0 1 0 5.0 0a2.5 2.5 0 1 0 -5.0 0M589.1 400.7a2.5 2.5 0 1 0 5.0 0a2.5 2.5 0 1 0 -5.0 0M587.2 405.3a2.5 2.5 0 1 0 5.0 0a2.5 2.5 0 1 0 -5.0 0M589.1 407.2a2.5 2.5 0 1 0 5.0 0a2.5 2.5 0 1 0 -5.0 0M595.5 403.5a2.5 2.5 0 1 0 5.0 0a2.5 2.5 0 1 0 -5.0 0M595.5 407.2a2.5 2.5 0 1 0 5.0 0a2.5 2.5 0 1 0 -5.0 0M600.1 401.6a2.5 2.5 0 1 0 5.0 0a2.5 2.5 0 1 0 -5.0 0M602.0 399.8a2.5 2.5 0 1 0 5.0 0a2.5 2.5 0 1 0 -5.0 0M603.8 402.6a2.5 2.5 0 1 0 5.0 0a2.5 2.5 0 1 0 -5.0 0M602.0 406.2a2.5 2.5 0 1 0 5.0 0a2.5 2.5 0 1 0 -5.0 0M604.3 408.1a2.5 2.5 0 1 0 5.0 0a2.5 2.5 0 1 0 -5.0 0M606.6 406.2a2.5 2.5 0 1 0 5.0 0a2.5 2.5 0 1 0 -5.0 0M500.1 464.6a2.5 2.5 0 1 0 5.0 0a2.5 2.5 0 1 0 -5.0 0M497.6 470.7a2.5 2.5 0 1 0 5.0 0a2.5 2.5 0 1 0 -5.0 0M494.1 476.7a2.5 2.5 0 1 0 5.0 0a2.5 2.5 0 1 0 -5.0 0M522.0 476.4a2.5 2.5 0 1 0 5.0 0a2.5 2.5 0 1 0 -5.0 0M538.0 483.2a2.5 2.5 0 1 0 5.0 0a2.5 2.5 0 1 0 -5.0 0M548.8 465.8a2.5 2.5 0 1 0 5.0 0a2.5 2.5 0 1 0 -5.0 0M557.9 465.1a2.5 2.5 0 1 0 5.0 0a2.5 2.5 0 1 0 -5.0 0M560.9 462.1a2.5 2.5 0 1 0 5.0 0a2.5 2.5 0 1 0 -5.0 0M563.2 467.3a2.5 2.5 0 1 0 5.0 0a2.5 2.5 0 1 0 -5.0 0M565.4 468.1a2.5 2.5 0 1 0 5.0 0a2.5 2.5 0 1 0 -5.0 0M568.5 464.3a2.5 2.5 0 1 0 5.0 0a2.5 2.5 0 1 0 -5.0 0M568.2 456.0a2.5 2.5 0 1 0 5.0 0a2.5 2.5 0 1 0 -5.0 0M575.2 485.4a2.5 2.5 0 1 0 5.0 0a2.5 2.5 0 1 0 -5.0 0M592.9 459.0a2.5 2.5 0 1 0 5.0 0a2.5 2.5 0 1 0 -5.0 0M640.9 362.8a2.5 2.5 0 1 0 5.0 0a2.5 2.5 0 1 0 -5.0 0M637.2 368.3a2.5 2.5 0 1 0 5.0 0a2.5 2.5 0 1 0 -5.0 0M639.1 371.1a2.5 2.5 0 1 0 5.0 0a2.5 2.5 0 1 0 -5.0 0M647.4 370.6a2.5 2.5 0 1 0 5.0 0a2.5 2.5 0 1 0 -5.0 0M650.1 372.9a2.5 2.5 0 1 0 5.0 0a2.5 2.5 0 1 0 -5.0 0M652.0 374.7a2.5 2.5 0 1 0 5.0 0a2.5 2.5 0 1 0 -5.0 0M655.7 367.4a2.5 2.5 0 1 0 5.0 0a2.5 2.5 0 1 0 -5.0 0M657.5 369.2a2.5 2.5 0 1 0 5.0 0a2.5 2.5 0 1 0 -5.0 0M659.4 372.0a2.5 2.5 0 1 0 5.0 0a2.5 2.5 0 1 0 -5.0 0M654.8 374.7a2.5 2.5 0 1 0 5.0 0a2.5 2.5 0 1 0 -5.0 0M656.6 373.8a2.5 2.5 0 1 0 5.0 0a2.5 2.5 0 1 0 -5.0 0M659.4 376.6a2.5 2.5 0 1 0 5.0 0a2.5 2.5 0 1 0 -5.0 0M650.1 378.4a2.5 2.5 0 1 0 5.0 0a2.5 2.5 0 1 0 -5.0 0M652.9 378.4a2.5 2.5 0 1 0 5.0 0a2.5 2.5 0 1 0 -5.0 0M655.7 379.4a2.5 2.5 0 1 0 5.0 0a2.5 2.5 0 1 0 -5.0 0M638.2 376.6a2.5 2.5 0 1 0 5.0 0a2.5 2.5 0 1 0 -5.0 0M640.9 377.5a2.5 2.5 0 1 0 5.0 0a2.5 2.5 0 1 0 -5.0 0M643.7 376.1a2.5 2.5 0 1 0 5.0 0a2.5 2.5 0 1 0 -5.0 0M640.0 380.3a2.5 2.5 0 1 0 5.0 0a2.5 2.5 0 1 0 -5.0 0M645.5 382.1a2.5 2.5 0 1 0 5.0 0a2.5 2.5 0 1 0 -5.0 0M630.8 380.3a2.5 2.5 0 1 0 5.0 0a2.5 2.5 0 1 0 -5.0 0M634.5 388.6a2.5 2.5 0 1 0 5.0 0a2.5 2.5 0 1 0 -5.0 0M636.3 391.3a2.5 2.5 0 1 0 5.0 0a2.5 2.5 0 1 0 -5.0 0M633.6 392.3a2.5 2.5 0 1 0 5.0 0a2.5 2.5 0 1 0 -5.0 0M641.9 386.7a2.5 2.5 0 1 0 5.0 0a2.5 2.5 0 1 0 -5.0 0M644.6 387.6a2.5 2.5 0 1 0 5.0 0a2.5 2.5 0 1 0 -5.0 0M642.8 390.4a2.5 2.5 0 1 0 5.0 0a2.5 2.5 0 1 0 -5.0 0M646.5 389.5a2.5 2.5 0 1 0 5.0 0a2.5 2.5 0 1 0 -5.0 0M649.2 391.3a2.5 2.5 0 1 0 5.0 0a2.5 2.5 0 1 0 -5.0 0M653.8 390.4a2.5 2.5 0 1 0 5.0 0a2.5 2.5 0 1 0 -5.0 0M651.1 393.2a2.5 2.5 0 1 0 5.0 0a2.5 2.5 0 1 0 -5.0 0M648.3 395.0a2.5 2.5 0 1 0 5.0 0a2.5 2.5 0 1 0 -5.0 0M640.9 393.2a2.5 2.5 0 1 0 5.0 0a2.5 2.5 0 1 0 -5.0 0M638.2 395.0a2.5 2.5 0 1 0 5.0 0a2.5 2.5 0 1 0 -5.0 0M631.7 396.9a2.5 2.5 0 1 0 5.0 0a2.5 2.5 0 1 0 -5.0 0M633.6 398.7a2.5 2.5 0 1 0 5.0 0a2.5 2.5 0 1 0 -5.0 0M636.3 400.6a2.5 2.5 0 1 0 5.0 0a2.5 2.5 0 1 0 -5.0 0M638.2 398.7a2.5 2.5 0 1 0 5.0 0a2.5 2.5 0 1 0 -5.0 0M641.9 399.6a2.5 2.5 0 1 0 5.0 0a2.5 2.5 0 1 0 -5.0 0M644.6 400.6a2.5 2.5 0 1 0 5.0 0a2.5 2.5 0 1 0 -5.0 0M586.8 399.5a2.5 2.5 0 1 0 5.0 0a2.5 2.5 0 1 0 -5.0 0M591.2 400.5a2.5 2.5 0 1 0 5.0 0a2.5 2.5 0 1 0 -5.0 0M586.6 408.8a2.5 2.5 0 1 0 5.0 0a2.5 2.5 0 1 0 -5.0 0M597.7 406.1a2.5 2.5 0 1 0 5.0 0a2.5 2.5 0 1 0 -5.0 0M604.1 406.1a2.5 2.5 0 1 0 5.0 0a2.5 2.5 0 1 0 -5.0 0M596.7 396.8a2.5 2.5 0 1 0 5.0 0a2.5 2.5 0 1 0 -5.0 0M600.4 395.9a2.5 2.5 0 1 0 5.0 0a2.5 2.5 0 1 0 -5.0 0" fill="#000"/>
<g clip-path="url(#c3)"><line x1="449.0" y1="537.1" x2="682.8" y2="321.5" stroke="#ff0000" stroke-width="2.9" stroke-dasharray="11.3 13.5" stroke-dashoffset="0.7" stroke-linecap="round"/>
<line x1="463.1" y1="537.1" x2="682.8" y2="319.3" stroke="#000" stroke-width="3.0"/></g>
<rect x="392.5" y="308.8" width="290.29999999999995" height="228.3" fill="none" stroke="#000" stroke-width="2.0"/>
<line x1="423.1" y1="537.1" x2="423.1" y2="551.3000000000001" stroke="#000" stroke-width="1.5"/>
<text x="423.1" y="570.6" text-anchor="middle" font-size="16">-1.0</text>
<line x1="473.3" y1="537.1" x2="473.3" y2="551.3000000000001" stroke="#000" stroke-width="1.5"/>
<text x="473.3" y="570.6" text-anchor="middle" font-size="16">-0.8</text>
<line x1="523.5" y1="537.1" x2="523.5" y2="551.3000000000001" stroke="#000" stroke-width="1.5"/>
<text x="523.5" y="570.6" text-anchor="middle" font-size="16">-0.6</text>
<line x1="573.8" y1="537.1" x2="573.8" y2="551.3000000000001" stroke="#000" stroke-width="1.5"/>
<text x="573.8" y="570.6" text-anchor="middle" font-size="16">-0.4</text>
<line x1="624.0" y1="537.1" x2="624.0" y2="551.3000000000001" stroke="#000" stroke-width="1.5"/>
<text x="624.0" y="570.6" text-anchor="middle" font-size="16">-0.2</text>
<line x1="674.2" y1="537.1" x2="674.2" y2="551.3000000000001" stroke="#000" stroke-width="1.5"/>
<text x="674.2" y="570.6" text-anchor="middle" font-size="16">0.0</text>
<line x1="379.3" y1="328.8" x2="392.5" y2="328.8" stroke="#000" stroke-width="1.5"/>
<line x1="379.3" y1="375.6" x2="392.5" y2="375.6" stroke="#000" stroke-width="1.5"/>
<line x1="379.3" y1="422.4" x2="392.5" y2="422.4" stroke="#000" stroke-width="1.5"/>
<line x1="379.3" y1="469.1" x2="392.5" y2="469.1" stroke="#000" stroke-width="1.5"/>
<line x1="379.3" y1="515.9" x2="392.5" y2="515.9" stroke="#000" stroke-width="1.5"/>
<text transform="translate(375.6,328.8) rotate(-90)" x="0" y="0" text-anchor="middle" font-size="16">0.0</text>
<text transform="translate(375.6,375.6) rotate(-90)" x="0" y="0" text-anchor="middle" font-size="16">-0.2</text>
<text transform="translate(375.6,422.4) rotate(-90)" x="0" y="0" text-anchor="middle" font-size="16">-0.4</text>
<text transform="translate(375.6,469.1) rotate(-90)" x="0" y="0" text-anchor="middle" font-size="16">-0.6</text>
<text transform="translate(375.6,515.9) rotate(-90)" x="0" y="0" text-anchor="middle" font-size="16">-0.8</text>
<text x="404.4" y="329.3" font-size="12.9">response ~ VPD * SWC</text>
<text x="404.7" y="354.6" font-size="12.9" fill="#111">R</text>
<text x="413.9" y="348.2" font-size="9.3" fill="#111">2</text>
<path d="M422.5 350.5H429.3M422.5 352.6H429.3" stroke="#444" stroke-width="0.95" fill="none"/>
<text x="432.3" y="354.6" font-size="12.9" fill="#111">0.66</text>
<text x="367" y="592.5" text-anchor="middle" font-size="17.6" font-weight="bold">Measured TWP (MPa)</text>
<text transform="translate(14.0,282.9) rotate(-90)" text-anchor="middle" font-size="17.7" font-weight="bold">Predicted TWP (MPa)</text>
</svg>
</body></html>
